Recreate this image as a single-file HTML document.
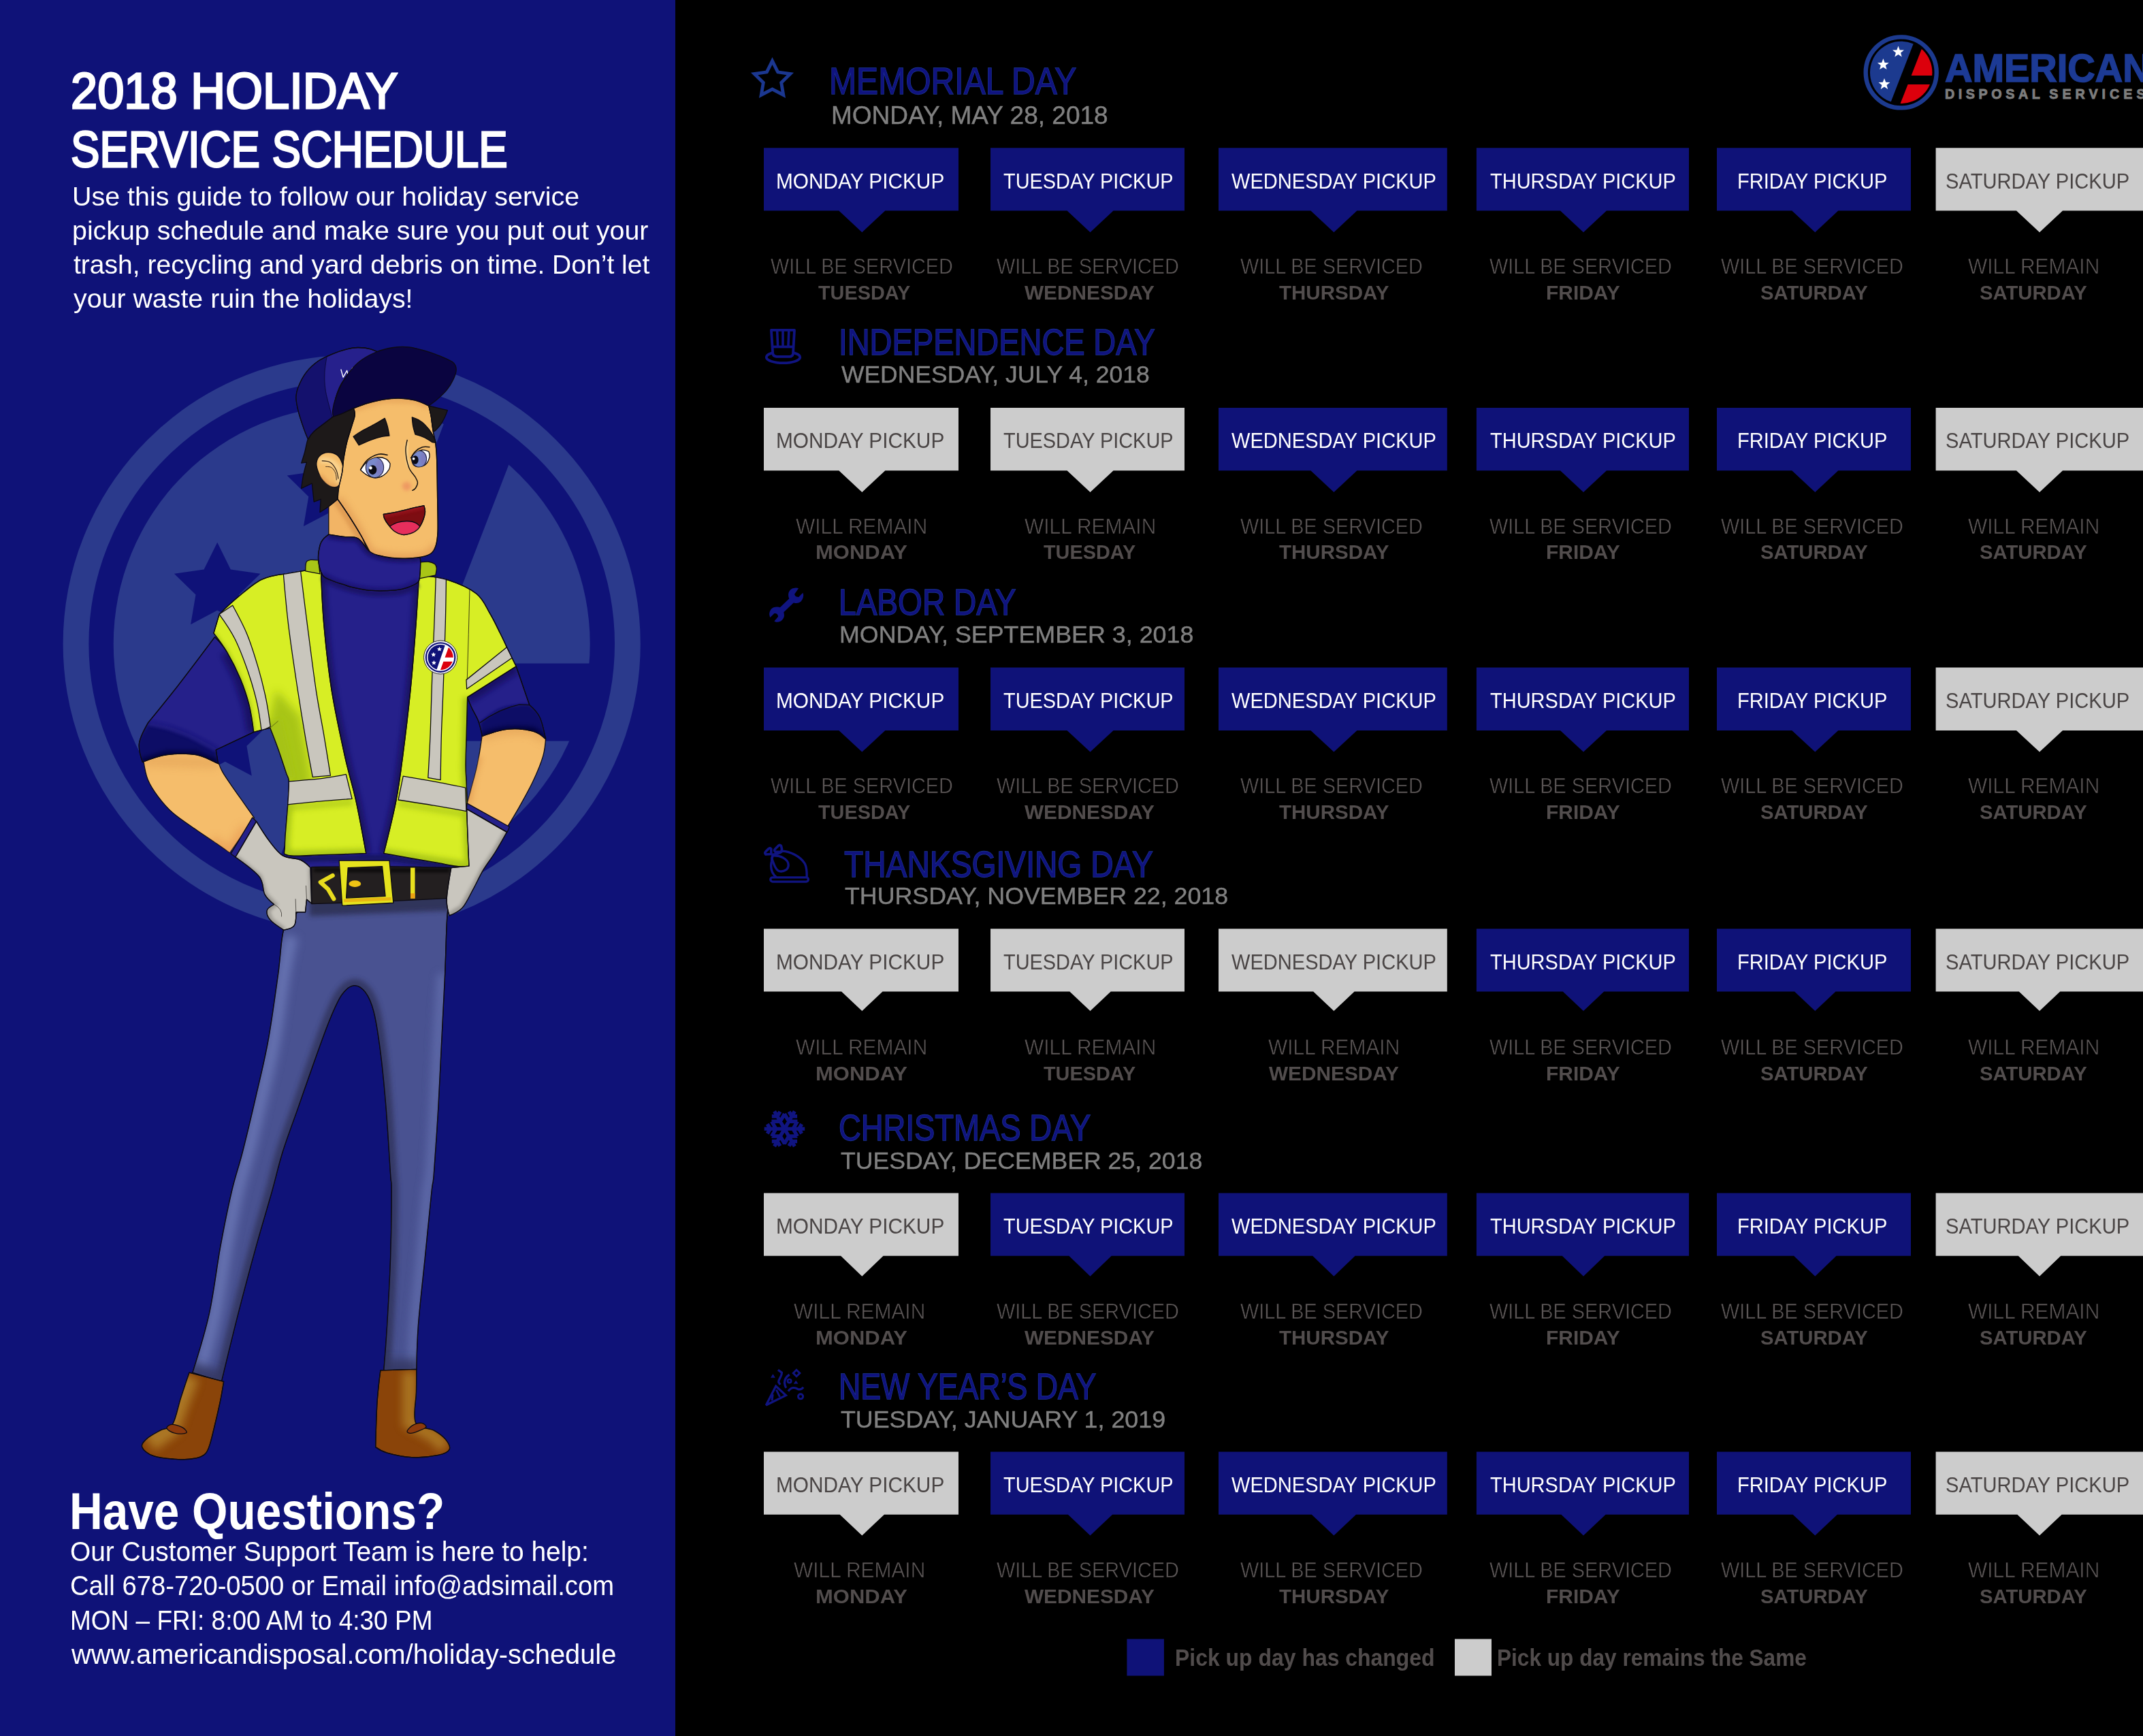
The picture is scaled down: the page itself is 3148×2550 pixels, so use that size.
<!DOCTYPE html>
<html lang="en"><head><meta charset="utf-8"><title>2018 Holiday Service Schedule</title>
<style>
html,body{margin:0;padding:0;background:#000;}
body{width:3148px;height:2550px;position:relative;overflow:hidden;font-family:"Liberation Sans",sans-serif;}
#left{position:absolute;left:0;top:0;width:992px;height:2550px;background:#0f1278;}
#art{position:absolute;left:0;top:0;width:3148px;height:2550px;}
.t{position:absolute;white-space:nowrap;line-height:1;transform-origin:0 0;font-family:"Liberation Sans",sans-serif;}
.thin{-webkit-text-stroke:0.55px #000;}
</style></head>
<body>
<div id="left"></div>
<svg id="art" width="3148" height="2550" viewBox="0 0 3148 2550">
<g id="bglogo">
<defs><clipPath id="bgdisc"><circle cx="516.7" cy="945.9" r="350"/></clipPath></defs>
<circle cx="516.7" cy="945.9" r="405.2" fill="none" stroke="#2b3a8c" stroke-width="37.8"/>
<g clip-path="url(#bgdisc)" fill="#2b3a8c">
<path d="M728.6 419.6 L330.8 1472.2 L100 1472.2 L100 419.6Z"/>
<path d="M794.7 560 L634.7 974.4 L900 974.4 L900 560Z"/>
<path d="M590.7 1088.5 L900 1088.5 L900 1320 L501 1320Z"/>
</g>
<path fill="#0f1278" d="M485.0,652.6 L504.6,692.3 L548.3,698.6 L516.7,729.5 L524.1,773.1 L485.0,752.5 L445.9,773.1 L453.3,729.5 L421.7,698.6 L465.4,692.3Z"/>
<path fill="#0f1278" d="M319.2,796.7 L338.8,836.4 L382.5,842.7 L350.9,873.6 L358.3,917.2 L319.2,896.6 L280.1,917.2 L287.5,873.6 L255.9,842.7 L299.6,836.4Z"/>
<path fill="#0f1278" d="M330.7,1018.9 L350.3,1058.6 L394.0,1064.9 L362.4,1095.8 L369.8,1139.4 L330.7,1118.8 L291.6,1139.4 L299.0,1095.8 L267.4,1064.9 L311.1,1058.6Z"/>
</g>
<g id="character"><defs>
<filter id="b6" filterUnits="userSpaceOnUse" x="-300" y="-400" width="3000" height="4600"><feGaussianBlur stdDeviation="6"/></filter>
<filter id="b12" filterUnits="userSpaceOnUse" x="-300" y="-400" width="3000" height="4600"><feGaussianBlur stdDeviation="12"/></filter>
<filter id="b20" filterUnits="userSpaceOnUse" x="-300" y="-400" width="3000" height="4600"><feGaussianBlur stdDeviation="20"/></filter>
<filter id="b35" filterUnits="userSpaceOnUse" x="-300" y="-400" width="3000" height="4600"><feGaussianBlur stdDeviation="35"/></filter>
</defs>
<g transform="translate(180,1300) scale(0.326645)">
<clipPath id="cpPants"><path d="M850.0 40.0C850.0 40.0 800.8 103.3 780.0 130.0C759.2 156.7 738.3 155.0 725.0 200.0C711.7 245.0 711.7 316.7 700.0 400.0C688.3 483.3 671.7 608.3 655.0 700.0C638.3 791.7 619.2 866.7 600.0 950.0C580.8 1033.3 558.2 1128.7 540.0 1200.0C521.8 1271.3 507.7 1306.3 491.0 1377.6C474.3 1448.9 456.8 1535.9 440.0 1627.6C423.2 1719.3 410.8 1833.4 390.0 1927.6C369.2 2021.8 315.0 2192.6 315.0 2192.6L445.0 2232.6C445.0 2232.6 494.2 2028.4 520.0 1927.6C545.8 1826.8 574.7 1719.3 600.0 1627.6C625.3 1535.9 652.0 1448.9 672.0 1377.6C692.0 1306.3 700.3 1262.9 720.0 1200.0C739.7 1137.1 766.7 1066.7 790.0 1000.0C813.3 933.3 836.7 865.0 860.0 800.0C883.3 735.0 909.2 660.8 930.0 610.0C950.8 559.2 966.7 521.3 985.0 495.0C1003.3 468.7 1022.2 454.2 1040.0 452.0C1057.8 449.8 1077.0 462.3 1092.0 482.0C1107.0 501.7 1118.7 525.3 1130.0 570.0C1141.3 614.7 1150.8 678.3 1160.0 750.0C1169.2 821.7 1177.5 908.3 1185.0 1000.0C1192.5 1091.7 1200.8 1237.1 1205.0 1300.0C1209.2 1362.9 1210.0 1314.7 1210.0 1377.6C1210.0 1440.5 1208.3 1577.6 1205.0 1677.6C1201.7 1777.6 1195.0 1893.4 1190.0 1977.6C1185.0 2061.8 1175.0 2182.6 1175.0 2182.6L1322.0 2179.6C1322.0 2179.6 1323.7 2061.3 1330.0 1977.6C1336.3 1893.9 1350.0 1777.6 1360.0 1677.6C1370.0 1577.6 1383.3 1440.5 1390.0 1377.6C1396.7 1314.7 1395.0 1362.9 1400.0 1300.0C1405.0 1237.1 1414.2 1100.0 1420.0 1000.0C1425.8 900.0 1430.0 800.0 1435.0 700.0C1440.0 600.0 1445.8 493.3 1450.0 400.0C1454.2 306.7 1455.3 203.3 1460.0 140.0C1464.7 76.7 1478.0 20.0 1478.0 20.0L850.0 40.0Z"/></clipPath>
<path d="M850.0 40.0C850.0 40.0 800.8 103.3 780.0 130.0C759.2 156.7 738.3 155.0 725.0 200.0C711.7 245.0 711.7 316.7 700.0 400.0C688.3 483.3 671.7 608.3 655.0 700.0C638.3 791.7 619.2 866.7 600.0 950.0C580.8 1033.3 558.2 1128.7 540.0 1200.0C521.8 1271.3 507.7 1306.3 491.0 1377.6C474.3 1448.9 456.8 1535.9 440.0 1627.6C423.2 1719.3 410.8 1833.4 390.0 1927.6C369.2 2021.8 315.0 2192.6 315.0 2192.6L445.0 2232.6C445.0 2232.6 494.2 2028.4 520.0 1927.6C545.8 1826.8 574.7 1719.3 600.0 1627.6C625.3 1535.9 652.0 1448.9 672.0 1377.6C692.0 1306.3 700.3 1262.9 720.0 1200.0C739.7 1137.1 766.7 1066.7 790.0 1000.0C813.3 933.3 836.7 865.0 860.0 800.0C883.3 735.0 909.2 660.8 930.0 610.0C950.8 559.2 966.7 521.3 985.0 495.0C1003.3 468.7 1022.2 454.2 1040.0 452.0C1057.8 449.8 1077.0 462.3 1092.0 482.0C1107.0 501.7 1118.7 525.3 1130.0 570.0C1141.3 614.7 1150.8 678.3 1160.0 750.0C1169.2 821.7 1177.5 908.3 1185.0 1000.0C1192.5 1091.7 1200.8 1237.1 1205.0 1300.0C1209.2 1362.9 1210.0 1314.7 1210.0 1377.6C1210.0 1440.5 1208.3 1577.6 1205.0 1677.6C1201.7 1777.6 1195.0 1893.4 1190.0 1977.6C1185.0 2061.8 1175.0 2182.6 1175.0 2182.6L1322.0 2179.6C1322.0 2179.6 1323.7 2061.3 1330.0 1977.6C1336.3 1893.9 1350.0 1777.6 1360.0 1677.6C1370.0 1577.6 1383.3 1440.5 1390.0 1377.6C1396.7 1314.7 1395.0 1362.9 1400.0 1300.0C1405.0 1237.1 1414.2 1100.0 1420.0 1000.0C1425.8 900.0 1430.0 800.0 1435.0 700.0C1440.0 600.0 1445.8 493.3 1450.0 400.0C1454.2 306.7 1455.3 203.3 1460.0 140.0C1464.7 76.7 1478.0 20.0 1478.0 20.0L850.0 40.0Z" fill="#495291" stroke="#0d0b12" stroke-width="1.3" vector-effect="non-scaling-stroke" stroke-linejoin="round"/>
<g clip-path="url(#cpPants)" fill="none">
<path d="M760.0 230.0C760.0 230.0 738.3 321.7 725.0 400.0C711.7 478.3 696.7 608.3 680.0 700.0C663.3 791.7 644.2 866.7 625.0 950.0C605.8 1033.3 583.3 1128.7 565.0 1200.0C546.7 1271.3 531.7 1306.3 515.0 1377.6C498.3 1448.9 481.7 1535.9 465.0 1627.6C448.3 1719.3 435.0 1833.4 415.0 1927.6C395.0 2021.8 345.0 2192.6 345.0 2192.6" stroke="#6a77b6" stroke-width="60" filter="url(#b20)" opacity="0.85"/>
<path d="M1440.0 400.0C1440.0 400.0 1425.8 600.0 1420.0 700.0C1414.2 800.0 1410.8 900.0 1405.0 1000.0C1399.2 1100.0 1390.5 1237.1 1385.0 1300.0C1379.5 1362.9 1378.7 1314.7 1372.0 1377.6C1365.3 1440.5 1354.5 1577.6 1345.0 1677.6C1335.5 1777.6 1321.7 1894.3 1315.0 1977.6C1308.3 2060.9 1305.0 2177.6 1305.0 2177.6" stroke="#6571b0" stroke-width="44" filter="url(#b20)" opacity="0.8"/>
<path d="M445.0 2232.6C445.0 2232.6 494.2 2028.4 520.0 1927.6C545.8 1826.8 574.7 1719.3 600.0 1627.6C625.3 1535.9 652.0 1448.9 672.0 1377.6C692.0 1306.3 700.3 1262.9 720.0 1200.0C739.7 1137.1 766.7 1066.7 790.0 1000.0C813.3 933.3 836.7 865.0 860.0 800.0C883.3 735.0 909.2 660.8 930.0 610.0C950.8 559.2 966.7 521.3 985.0 495.0C1003.3 468.7 1022.2 454.2 1040.0 452.0C1057.8 449.8 1077.0 462.3 1092.0 482.0C1107.0 501.7 1118.7 525.3 1130.0 570.0C1141.3 614.7 1150.8 678.3 1160.0 750.0C1169.2 821.7 1177.5 908.3 1185.0 1000.0C1192.5 1091.7 1200.8 1237.1 1205.0 1300.0C1209.2 1362.9 1210.0 1314.7 1210.0 1377.6C1210.0 1440.5 1208.3 1577.6 1205.0 1677.6C1201.7 1777.6 1195.0 1893.4 1190.0 1977.6C1185.0 2061.8 1175.0 2182.6 1175.0 2182.6" stroke="#33365f" stroke-width="60" filter="url(#b12)" opacity="0.85"/>
<path d="M840 95 L1480 70" stroke="#2f3157" stroke-width="90" filter="url(#b12)" opacity="0.9"/>
<path d="M300 2177.6 L460 2227.6 M1160 2167.6 L1330 2167.6" stroke="#343862" stroke-width="70" filter="url(#b20)" opacity="0.85"/>
</g>
<path d="M850.0 40.0C850.0 40.0 800.8 103.3 780.0 130.0C759.2 156.7 738.3 155.0 725.0 200.0C711.7 245.0 711.7 316.7 700.0 400.0C688.3 483.3 671.7 608.3 655.0 700.0C638.3 791.7 619.2 866.7 600.0 950.0C580.8 1033.3 558.2 1128.7 540.0 1200.0C521.8 1271.3 507.7 1306.3 491.0 1377.6C474.3 1448.9 456.8 1535.9 440.0 1627.6C423.2 1719.3 410.8 1833.4 390.0 1927.6C369.2 2021.8 315.0 2192.6 315.0 2192.6L445.0 2232.6C445.0 2232.6 494.2 2028.4 520.0 1927.6C545.8 1826.8 574.7 1719.3 600.0 1627.6C625.3 1535.9 652.0 1448.9 672.0 1377.6C692.0 1306.3 700.3 1262.9 720.0 1200.0C739.7 1137.1 766.7 1066.7 790.0 1000.0C813.3 933.3 836.7 865.0 860.0 800.0C883.3 735.0 909.2 660.8 930.0 610.0C950.8 559.2 966.7 521.3 985.0 495.0C1003.3 468.7 1022.2 454.2 1040.0 452.0C1057.8 449.8 1077.0 462.3 1092.0 482.0C1107.0 501.7 1118.7 525.3 1130.0 570.0C1141.3 614.7 1150.8 678.3 1160.0 750.0C1169.2 821.7 1177.5 908.3 1185.0 1000.0C1192.5 1091.7 1200.8 1237.1 1205.0 1300.0C1209.2 1362.9 1210.0 1314.7 1210.0 1377.6C1210.0 1440.5 1208.3 1577.6 1205.0 1677.6C1201.7 1777.6 1195.0 1893.4 1190.0 1977.6C1185.0 2061.8 1175.0 2182.6 1175.0 2182.6L1322.0 2179.6C1322.0 2179.6 1323.7 2061.3 1330.0 1977.6C1336.3 1893.9 1350.0 1777.6 1360.0 1677.6C1370.0 1577.6 1383.3 1440.5 1390.0 1377.6C1396.7 1314.7 1395.0 1362.9 1400.0 1300.0C1405.0 1237.1 1414.2 1100.0 1420.0 1000.0C1425.8 900.0 1430.0 800.0 1435.0 700.0C1440.0 600.0 1445.8 493.3 1450.0 400.0C1454.2 306.7 1455.3 203.3 1460.0 140.0C1464.7 76.7 1478.0 20.0 1478.0 20.0L850.0 40.0Z" fill="none" stroke="#0d0b12" stroke-width="1.3" vector-effect="non-scaling-stroke" stroke-linejoin="round"/>
</g>
<g transform="translate(180,1750) scale(0.326645)">
<clipPath id="cpBootL"><path d="M300.0 815.0L455.0 855.0C455.0 855.0 446.7 907.5 440.0 940.0C433.3 972.5 423.0 1016.7 415.0 1050.0C407.0 1083.3 399.2 1118.3 392.0 1140.0C384.8 1161.7 382.3 1170.0 372.0 1180.0C361.7 1190.0 350.3 1195.8 330.0 1200.0C309.7 1204.2 281.7 1206.7 250.0 1205.0C218.3 1203.3 167.0 1199.2 140.0 1190.0C113.0 1180.8 93.0 1163.0 88.0 1150.0C83.0 1137.0 96.3 1124.5 110.0 1112.0C123.7 1099.5 150.8 1085.7 170.0 1075.0C189.2 1064.3 209.7 1072.2 225.0 1048.0C240.3 1023.8 249.5 968.8 262.0 930.0C274.5 891.2 300.0 815.0 300.0 815.0Z"/></clipPath>
<path d="M300.0 815.0L455.0 855.0C455.0 855.0 446.7 907.5 440.0 940.0C433.3 972.5 423.0 1016.7 415.0 1050.0C407.0 1083.3 399.2 1118.3 392.0 1140.0C384.8 1161.7 382.3 1170.0 372.0 1180.0C361.7 1190.0 350.3 1195.8 330.0 1200.0C309.7 1204.2 281.7 1206.7 250.0 1205.0C218.3 1203.3 167.0 1199.2 140.0 1190.0C113.0 1180.8 93.0 1163.0 88.0 1150.0C83.0 1137.0 96.3 1124.5 110.0 1112.0C123.7 1099.5 150.8 1085.7 170.0 1075.0C189.2 1064.3 209.7 1072.2 225.0 1048.0C240.3 1023.8 249.5 968.8 262.0 930.0C274.5 891.2 300.0 815.0 300.0 815.0Z" fill="#8a4409" stroke="#0d0b12" stroke-width="1.3" vector-effect="non-scaling-stroke" stroke-linejoin="round"/>
<g clip-path="url(#cpBootL)" fill="none">
<path d="M300 830 L250 960 L215 1060 L120 1130" stroke="#ad7a26" stroke-width="90" filter="url(#b20)" opacity="0.95"/>
</g>
<path d="M300.0 815.0L455.0 855.0C455.0 855.0 446.7 907.5 440.0 940.0C433.3 972.5 423.0 1016.7 415.0 1050.0C407.0 1083.3 399.2 1118.3 392.0 1140.0C384.8 1161.7 382.3 1170.0 372.0 1180.0C361.7 1190.0 350.3 1195.8 330.0 1200.0C309.7 1204.2 281.7 1206.7 250.0 1205.0C218.3 1203.3 167.0 1199.2 140.0 1190.0C113.0 1180.8 93.0 1163.0 88.0 1150.0C83.0 1137.0 96.3 1124.5 110.0 1112.0C123.7 1099.5 150.8 1085.7 170.0 1075.0C189.2 1064.3 209.7 1072.2 225.0 1048.0C240.3 1023.8 249.5 968.8 262.0 930.0C274.5 891.2 300.0 815.0 300.0 815.0Z" fill="none" stroke="#0d0b12" stroke-width="1.3" vector-effect="non-scaling-stroke" stroke-linejoin="round"/>
<clipPath id="cpBootR"><path d="M1160.0 805.0L1322.0 800.0C1322.0 800.0 1321.7 860.0 1321.0 900.0C1320.3 940.0 1304.8 1010.8 1318.0 1040.0C1331.2 1069.2 1377.7 1062.5 1400.0 1075.0C1422.3 1087.5 1440.3 1100.8 1452.0 1115.0C1463.7 1129.2 1475.3 1148.2 1470.0 1160.0C1464.7 1171.8 1448.3 1180.0 1420.0 1186.0C1391.7 1192.0 1338.3 1197.7 1300.0 1196.0C1261.7 1194.3 1217.0 1183.7 1190.0 1176.0C1163.0 1168.3 1138.0 1150.0 1138.0 1150.0C1138.0 1150.0 1141.3 1007.5 1145.0 950.0C1148.7 892.5 1160.0 805.0 1160.0 805.0Z"/></clipPath>
<path d="M1160.0 805.0L1322.0 800.0C1322.0 800.0 1321.7 860.0 1321.0 900.0C1320.3 940.0 1304.8 1010.8 1318.0 1040.0C1331.2 1069.2 1377.7 1062.5 1400.0 1075.0C1422.3 1087.5 1440.3 1100.8 1452.0 1115.0C1463.7 1129.2 1475.3 1148.2 1470.0 1160.0C1464.7 1171.8 1448.3 1180.0 1420.0 1186.0C1391.7 1192.0 1338.3 1197.7 1300.0 1196.0C1261.7 1194.3 1217.0 1183.7 1190.0 1176.0C1163.0 1168.3 1138.0 1150.0 1138.0 1150.0C1138.0 1150.0 1141.3 1007.5 1145.0 950.0C1148.7 892.5 1160.0 805.0 1160.0 805.0Z" fill="#8a4409" stroke="#0d0b12" stroke-width="1.3" vector-effect="non-scaling-stroke" stroke-linejoin="round"/>
<g clip-path="url(#cpBootR)" fill="none">
<path d="M1290 810 L1290 1040 L1400 1100 L1450 1150" stroke="#ad7a26" stroke-width="60" filter="url(#b20)" opacity="0.9"/>
</g>
<path d="M1160.0 805.0L1322.0 800.0C1322.0 800.0 1321.7 860.0 1321.0 900.0C1320.3 940.0 1304.8 1010.8 1318.0 1040.0C1331.2 1069.2 1377.7 1062.5 1400.0 1075.0C1422.3 1087.5 1440.3 1100.8 1452.0 1115.0C1463.7 1129.2 1475.3 1148.2 1470.0 1160.0C1464.7 1171.8 1448.3 1180.0 1420.0 1186.0C1391.7 1192.0 1338.3 1197.7 1300.0 1196.0C1261.7 1194.3 1217.0 1183.7 1190.0 1176.0C1163.0 1168.3 1138.0 1150.0 1138.0 1150.0C1138.0 1150.0 1141.3 1007.5 1145.0 950.0C1148.7 892.5 1160.0 805.0 1160.0 805.0Z" fill="none" stroke="#0d0b12" stroke-width="1.3" vector-effect="non-scaling-stroke" stroke-linejoin="round"/>
<path d="M200.0 1060.0C202.2 1055.0 213.3 1047.7 225.0 1048.0C236.7 1048.3 259.5 1055.8 270.0 1062.0C280.5 1068.2 291.3 1080.3 288.0 1085.0C284.7 1089.7 262.7 1091.2 250.0 1090.0C237.3 1088.8 220.3 1083.0 212.0 1078.0C203.7 1073.0 197.8 1065.0 200.0 1060.0Z" fill="#8c3a0c" stroke="#0d0b12" stroke-width="1.3" vector-effect="non-scaling-stroke" stroke-linejoin="round"/>
<path d="M1280.0 1078.0C1281.7 1072.0 1294.2 1058.0 1305.0 1052.0C1315.8 1046.0 1335.0 1040.7 1345.0 1042.0C1355.0 1043.3 1367.5 1054.0 1365.0 1060.0C1362.5 1066.0 1341.7 1073.3 1330.0 1078.0C1318.3 1082.7 1303.3 1088.0 1295.0 1088.0C1286.7 1088.0 1278.3 1084.0 1280.0 1078.0Z" fill="#8c3a0c" stroke="#0d0b12" stroke-width="1.3" vector-effect="non-scaling-stroke" stroke-linejoin="round"/>
</g>
<g transform="translate(180,850) scale(0.326645)">
<clipPath id="cpLarm"><path d="M95.0 822.0C95.0 822.0 160.8 795.3 200.0 790.0C239.2 784.7 291.3 783.3 330.0 790.0C368.7 796.7 432.0 830.0 432.0 830.0C432.0 830.0 441.0 854.2 450.0 870.0C459.0 885.8 470.0 901.7 486.0 925.0C502.0 948.3 528.3 985.0 546.0 1010.0C563.7 1035.0 592.0 1075.0 592.0 1075.0L482.0 1232.0C482.0 1232.0 449.7 1208.8 425.0 1192.0C400.3 1175.2 366.8 1153.8 334.0 1131.0C301.2 1108.2 257.0 1080.2 228.0 1055.0C199.0 1029.8 179.0 1005.2 160.0 980.0C141.0 954.8 124.8 930.3 114.0 904.0C103.2 877.7 95.0 822.0 95.0 822.0Z"/></clipPath>
<path d="M95.0 822.0C95.0 822.0 160.8 795.3 200.0 790.0C239.2 784.7 291.3 783.3 330.0 790.0C368.7 796.7 432.0 830.0 432.0 830.0C432.0 830.0 441.0 854.2 450.0 870.0C459.0 885.8 470.0 901.7 486.0 925.0C502.0 948.3 528.3 985.0 546.0 1010.0C563.7 1035.0 592.0 1075.0 592.0 1075.0L482.0 1232.0C482.0 1232.0 449.7 1208.8 425.0 1192.0C400.3 1175.2 366.8 1153.8 334.0 1131.0C301.2 1108.2 257.0 1080.2 228.0 1055.0C199.0 1029.8 179.0 1005.2 160.0 980.0C141.0 954.8 124.8 930.3 114.0 904.0C103.2 877.7 95.0 822.0 95.0 822.0Z" fill="#f5bd6b" stroke="#0d0b12" stroke-width="1.3" vector-effect="non-scaling-stroke" stroke-linejoin="round"/>
<g clip-path="url(#cpLarm)" fill="none"><path d="M95 818 L430 828" stroke="#d48a45" stroke-width="44" filter="url(#b20)" opacity="0.35"/><path d="M400 1180 L482 1236 L560 1120" stroke="#e89a52" stroke-width="50" filter="url(#b20)" opacity="0.7"/></g>
<clipPath id="cpRarm"><path d="M1618.0 700.0C1618.0 700.0 1694.0 671.7 1732.0 668.0C1770.0 664.3 1817.5 670.2 1846.0 678.0C1874.5 685.8 1903.0 715.0 1903.0 715.0C1903.0 715.0 1900.5 765.3 1891.0 798.0C1881.5 830.7 1863.7 873.2 1846.0 911.0C1828.3 948.8 1804.0 991.2 1785.0 1025.0C1766.0 1058.8 1732.0 1114.0 1732.0 1114.0L1550.0 1012.0C1550.0 1012.0 1559.3 978.3 1567.0 949.0C1574.7 919.7 1587.5 877.5 1596.0 836.0C1604.5 794.5 1618.0 700.0 1618.0 700.0Z"/></clipPath>
<path d="M1618.0 700.0C1618.0 700.0 1694.0 671.7 1732.0 668.0C1770.0 664.3 1817.5 670.2 1846.0 678.0C1874.5 685.8 1903.0 715.0 1903.0 715.0C1903.0 715.0 1900.5 765.3 1891.0 798.0C1881.5 830.7 1863.7 873.2 1846.0 911.0C1828.3 948.8 1804.0 991.2 1785.0 1025.0C1766.0 1058.8 1732.0 1114.0 1732.0 1114.0L1550.0 1012.0C1550.0 1012.0 1559.3 978.3 1567.0 949.0C1574.7 919.7 1587.5 877.5 1596.0 836.0C1604.5 794.5 1618.0 700.0 1618.0 700.0Z" fill="#f5bd6b" stroke="#0d0b12" stroke-width="1.3" vector-effect="non-scaling-stroke" stroke-linejoin="round"/>
<g clip-path="url(#cpRarm)" fill="none"><path d="M1612 705 Q1732 662 1846 680 L1903 718" stroke="#d48a45" stroke-width="44" filter="url(#b20)" opacity="0.4"/><path d="M1600 800 L1572 900 L1550 1012" stroke="#e39f55" stroke-width="40" filter="url(#b12)" opacity="0.7"/></g>
<clipPath id="cpLsl"><path d="M415.0 262.0C415.0 262.0 300.0 415.7 250.0 480.0C200.0 544.3 115.0 648.0 115.0 648.0C115.0 648.0 79.2 710.5 75.0 740.0C70.8 769.5 90.0 825.0 90.0 825.0C90.0 825.0 160.0 797.5 200.0 792.0C240.0 786.5 291.7 785.3 330.0 792.0C368.3 798.7 430.0 832.0 430.0 832.0L420.0 770.0L590.0 690.0C590.0 690.0 580.0 610.0 570.0 570.0C560.0 530.0 546.7 490.0 530.0 450.0C513.3 410.0 489.2 361.3 470.0 330.0C450.8 298.7 415.0 262.0 415.0 262.0Z"/></clipPath>
<path d="M415.0 262.0C415.0 262.0 300.0 415.7 250.0 480.0C200.0 544.3 115.0 648.0 115.0 648.0C115.0 648.0 79.2 710.5 75.0 740.0C70.8 769.5 90.0 825.0 90.0 825.0C90.0 825.0 160.0 797.5 200.0 792.0C240.0 786.5 291.7 785.3 330.0 792.0C368.3 798.7 430.0 832.0 430.0 832.0L420.0 770.0L590.0 690.0C590.0 690.0 580.0 610.0 570.0 570.0C560.0 530.0 546.7 490.0 530.0 450.0C513.3 410.0 489.2 361.3 470.0 330.0C450.8 298.7 415.0 262.0 415.0 262.0Z" fill="#25208a" stroke="#0d0b12" stroke-width="1.3" vector-effect="non-scaling-stroke" stroke-linejoin="round"/>
<g clip-path="url(#cpLsl)">
<path d="M115.0 648.0C115.0 648.0 65.8 708.0 60.0 740.0C54.2 772.0 80.0 840.0 80.0 840.0C80.0 840.0 158.3 806.7 200.0 800.0C241.7 793.3 290.0 792.5 330.0 800.0C370.0 807.5 440.0 845.0 440.0 845.0L425.0 765.0C425.0 765.0 337.5 716.7 300.0 700.0C262.5 683.3 230.8 673.7 200.0 665.0C169.2 656.3 115.0 648.0 115.0 648.0Z" fill="#100c66" filter="url(#b12)"/>
<path d="M85 830 L200 795 L330 795 L432 835" stroke="#06043a" stroke-width="40" fill="none" filter="url(#b12)"/>
<path d="M120 650 L200 668 L300 705 L420 768" stroke="#25208a" stroke-width="20" fill="none" filter="url(#b6)" opacity="0.7"/>
<path d="M470 330 L530 450 L570 570 L590 690" stroke="#15115f" stroke-width="60" fill="none" filter="url(#b12)" opacity="0.8"/>
</g>
<path d="M415.0 262.0C415.0 262.0 300.0 415.7 250.0 480.0C200.0 544.3 115.0 648.0 115.0 648.0C115.0 648.0 79.2 710.5 75.0 740.0C70.8 769.5 90.0 825.0 90.0 825.0C90.0 825.0 160.0 797.5 200.0 792.0C240.0 786.5 291.7 785.3 330.0 792.0C368.3 798.7 430.0 832.0 430.0 832.0L420.0 770.0L590.0 690.0C590.0 690.0 580.0 610.0 570.0 570.0C560.0 530.0 546.7 490.0 530.0 450.0C513.3 410.0 489.2 361.3 470.0 330.0C450.8 298.7 415.0 262.0 415.0 262.0Z" fill="none" stroke="#0d0b12" stroke-width="1.3" vector-effect="non-scaling-stroke" stroke-linejoin="round"/>
<clipPath id="cpRsl"><path d="M1551.0 533.0L1770.0 394.0L1830.0 568.0C1830.0 568.0 1863.8 597.3 1876.0 623.0C1888.2 648.7 1903.0 722.0 1903.0 722.0C1903.0 722.0 1874.5 693.5 1846.0 686.0C1817.5 678.5 1770.0 673.3 1732.0 677.0C1694.0 680.7 1618.0 708.0 1618.0 708.0C1618.0 708.0 1608.0 661.3 1600.0 640.0C1592.0 618.7 1578.2 597.8 1570.0 580.0C1561.8 562.2 1551.0 533.0 1551.0 533.0Z"/></clipPath>
<path d="M1551.0 533.0L1770.0 394.0L1830.0 568.0C1830.0 568.0 1863.8 597.3 1876.0 623.0C1888.2 648.7 1903.0 722.0 1903.0 722.0C1903.0 722.0 1874.5 693.5 1846.0 686.0C1817.5 678.5 1770.0 673.3 1732.0 677.0C1694.0 680.7 1618.0 708.0 1618.0 708.0C1618.0 708.0 1608.0 661.3 1600.0 640.0C1592.0 618.7 1578.2 597.8 1570.0 580.0C1561.8 562.2 1551.0 533.0 1551.0 533.0Z" fill="#25208a" stroke="#0d0b12" stroke-width="1.3" vector-effect="non-scaling-stroke" stroke-linejoin="round"/>
<g clip-path="url(#cpRsl)">
<path d="M1607.0 648.0C1607.0 648.0 1664.3 600.5 1694.0 587.0C1723.7 573.5 1762.0 570.2 1785.0 567.0C1808.0 563.8 1832.0 568.0 1832.0 568.0C1832.0 568.0 1867.3 593.8 1880.0 620.0C1892.7 646.2 1908.0 725.0 1908.0 725.0C1908.0 725.0 1875.3 697.5 1846.0 690.0C1816.7 682.5 1771.0 676.3 1732.0 680.0C1693.0 683.7 1612.0 712.0 1612.0 712.0L1607.0 648.0Z" fill="#110d66" filter="url(#b6)"/>
<path d="M1618 710 Q1732 668 1846 686 L1903 724" stroke="#06043a" stroke-width="34" fill="none" filter="url(#b12)"/>
<path d="M1551 540 L1770 400" stroke="#15115f" stroke-width="50" fill="none" filter="url(#b12)" opacity="0.8"/>
</g>
<path d="M1551.0 533.0L1770.0 394.0L1830.0 568.0C1830.0 568.0 1863.8 597.3 1876.0 623.0C1888.2 648.7 1903.0 722.0 1903.0 722.0C1903.0 722.0 1874.5 693.5 1846.0 686.0C1817.5 678.5 1770.0 673.3 1732.0 677.0C1694.0 680.7 1618.0 708.0 1618.0 708.0C1618.0 708.0 1608.0 661.3 1600.0 640.0C1592.0 618.7 1578.2 597.8 1570.0 580.0C1561.8 562.2 1551.0 533.0 1551.0 533.0Z" fill="none" stroke="#0d0b12" stroke-width="1.3" vector-effect="non-scaling-stroke" stroke-linejoin="round"/>
<path d="M1607 648 Q1694 585 1785 566 L1832 568" fill="none" stroke="#0d0b12" stroke-width="1.3" vector-effect="non-scaling-stroke" stroke-linejoin="round"/>
<path d="M905.0 -60.0 L1330.0 -60.0 L1560.0 1290.0 L1480.0 1302.0 L850.0 1300.0 L728.0 1245.0Z" fill="#25208a" />
<path d="M735 1262 L1100 1255 L1180 1255 L1555 1305" stroke="#16125f" stroke-width="26" fill="none" filter="url(#b6)" opacity="0.9"/>
<clipPath id="cpLV"><path d="M878.0 -46.0L735.0 -22.0C735.0 -22.0 660.8 -13.3 625.0 4.0C589.2 21.3 551.7 56.0 520.0 82.0C488.3 108.0 435.0 160.0 435.0 160.0L410.0 245.0C410.0 245.0 450.0 295.8 470.0 330.0C490.0 364.2 513.3 410.0 530.0 450.0C546.7 490.0 560.0 530.0 570.0 570.0C580.0 610.0 590.0 690.0 590.0 690.0L664.0 671.0C664.0 671.0 686.0 726.3 698.0 760.0C710.0 793.7 727.7 847.7 736.0 873.0C744.3 898.3 746.8 887.8 748.0 912.0C749.2 936.2 746.0 970.0 743.0 1018.0C740.0 1066.0 729.7 1162.3 730.0 1200.0C730.3 1237.7 716.7 1237.0 745.0 1244.0C773.3 1251.0 841.7 1243.5 900.0 1242.0C958.3 1240.5 1095.0 1235.0 1095.0 1235.0C1095.0 1235.0 1065.8 1072.5 1050.0 1000.0C1034.2 927.5 1018.3 883.3 1000.0 800.0C981.7 716.7 955.8 600.0 940.0 500.0C924.2 400.0 913.0 291.0 905.0 200.0C897.0 109.0 892.0 -46.0 892.0 -46.0L878.0 -46.0Z"/></clipPath><clipPath id="cpRV"><path d="M1335.0 -16.0C1335.0 -16.0 1420.2 -8.0 1463.0 6.0C1505.8 20.0 1560.3 42.7 1592.0 68.0C1623.7 93.3 1635.3 128.5 1653.0 158.0C1670.7 187.5 1685.5 220.0 1698.0 245.0C1710.5 270.0 1728.0 308.0 1728.0 308.0L1770.0 394.0L1551.0 533.0C1551.0 533.0 1548.3 633.5 1547.0 684.0C1545.7 734.5 1543.2 798.2 1543.0 836.0C1542.8 873.8 1544.8 882.0 1546.0 911.0C1547.2 940.0 1548.7 972.0 1550.0 1010.0C1551.3 1048.0 1552.0 1097.0 1554.0 1139.0C1556.0 1181.0 1564.3 1235.8 1562.0 1262.0C1559.7 1288.2 1567.0 1293.8 1540.0 1296.0C1513.0 1298.2 1460.8 1285.2 1400.0 1275.0C1339.2 1264.8 1175.0 1235.0 1175.0 1235.0C1175.0 1235.0 1215.8 1072.5 1230.0 1000.0C1244.2 927.5 1249.2 883.3 1260.0 800.0C1270.8 716.7 1285.0 600.0 1295.0 500.0C1305.0 400.0 1313.7 286.0 1320.0 200.0C1326.3 114.0 1333.0 -16.0 1333.0 -16.0L1335.0 -16.0Z"/></clipPath>
<path d="M890.0 -80.0C890.0 -80.0 896.7 103.3 905.0 200.0C913.3 296.7 924.2 400.0 940.0 500.0C955.8 600.0 981.7 716.7 1000.0 800.0C1018.3 883.3 1034.2 927.5 1050.0 1000.0C1065.8 1072.5 1095.0 1235.0 1095.0 1235.0" stroke="#120e55" stroke-width="40" fill="none" filter="url(#b12)" opacity="0.75"/>
<path d="M1335.0 -70.0C1335.0 -70.0 1326.7 105.0 1320.0 200.0C1313.3 295.0 1305.0 400.0 1295.0 500.0C1285.0 600.0 1270.8 716.7 1260.0 800.0C1249.2 883.3 1244.2 927.5 1230.0 1000.0C1215.8 1072.5 1175.0 1235.0 1175.0 1235.0" stroke="#120e55" stroke-width="40" fill="none" filter="url(#b12)" opacity="0.75"/>
<path d="M878.0 -46.0L735.0 -22.0C735.0 -22.0 660.8 -13.3 625.0 4.0C589.2 21.3 551.7 56.0 520.0 82.0C488.3 108.0 435.0 160.0 435.0 160.0L410.0 245.0C410.0 245.0 450.0 295.8 470.0 330.0C490.0 364.2 513.3 410.0 530.0 450.0C546.7 490.0 560.0 530.0 570.0 570.0C580.0 610.0 590.0 690.0 590.0 690.0L664.0 671.0C664.0 671.0 686.0 726.3 698.0 760.0C710.0 793.7 727.7 847.7 736.0 873.0C744.3 898.3 746.8 887.8 748.0 912.0C749.2 936.2 746.0 970.0 743.0 1018.0C740.0 1066.0 729.7 1162.3 730.0 1200.0C730.3 1237.7 716.7 1237.0 745.0 1244.0C773.3 1251.0 841.7 1243.5 900.0 1242.0C958.3 1240.5 1095.0 1235.0 1095.0 1235.0C1095.0 1235.0 1065.8 1072.5 1050.0 1000.0C1034.2 927.5 1018.3 883.3 1000.0 800.0C981.7 716.7 955.8 600.0 940.0 500.0C924.2 400.0 913.0 291.0 905.0 200.0C897.0 109.0 892.0 -46.0 892.0 -46.0L878.0 -46.0Z" fill="#d7ee25" stroke="#0d0b12" stroke-width="1.3" vector-effect="non-scaling-stroke" stroke-linejoin="round"/>
<path d="M1335.0 -16.0C1335.0 -16.0 1420.2 -8.0 1463.0 6.0C1505.8 20.0 1560.3 42.7 1592.0 68.0C1623.7 93.3 1635.3 128.5 1653.0 158.0C1670.7 187.5 1685.5 220.0 1698.0 245.0C1710.5 270.0 1728.0 308.0 1728.0 308.0L1770.0 394.0L1551.0 533.0C1551.0 533.0 1548.3 633.5 1547.0 684.0C1545.7 734.5 1543.2 798.2 1543.0 836.0C1542.8 873.8 1544.8 882.0 1546.0 911.0C1547.2 940.0 1548.7 972.0 1550.0 1010.0C1551.3 1048.0 1552.0 1097.0 1554.0 1139.0C1556.0 1181.0 1564.3 1235.8 1562.0 1262.0C1559.7 1288.2 1567.0 1293.8 1540.0 1296.0C1513.0 1298.2 1460.8 1285.2 1400.0 1275.0C1339.2 1264.8 1175.0 1235.0 1175.0 1235.0C1175.0 1235.0 1215.8 1072.5 1230.0 1000.0C1244.2 927.5 1249.2 883.3 1260.0 800.0C1270.8 716.7 1285.0 600.0 1295.0 500.0C1305.0 400.0 1313.7 286.0 1320.0 200.0C1326.3 114.0 1333.0 -16.0 1333.0 -16.0L1335.0 -16.0Z" fill="#d7ee25" stroke="#0d0b12" stroke-width="1.3" vector-effect="non-scaling-stroke" stroke-linejoin="round"/>
<g clip-path="url(#cpLV)">
<path d="M690 500 L650 680 L700 780 L740 900 L750 1000 L830 960 L850 900 L800 620Z" fill="#a6c315" filter="url(#b20)" opacity="0.95"/>
<path d="M680 640 L740 900" stroke="#a6c315" stroke-width="70" fill="none" filter="url(#b12)"/>
<path d="M748 912 L743 1018 L730 1200 L745 1244 L1095 1235" stroke="#a6c315" stroke-width="44" fill="none" filter="url(#b12)" opacity="0.85"/>
<path d="M745 1030 L1035 1005" stroke="#a6c315" stroke-width="30" fill="none" filter="url(#b12)" opacity="0.6"/>
<path d="M410 245 L470 330 L530 450 L570 570 L590 690" stroke="#a6c315" stroke-width="24" fill="none" filter="url(#b6)" opacity="0.6"/>
<path d="M435.0 160.0L495.0 120.0C495.0 120.0 540.8 203.3 560.0 250.0C579.2 296.7 595.8 351.7 610.0 400.0C624.2 448.3 635.8 495.8 645.0 540.0C654.2 584.2 665.0 665.0 665.0 665.0L625.0 685.0C625.0 685.0 615.0 604.2 605.0 560.0C595.0 515.8 581.7 468.3 565.0 420.0C548.3 371.7 526.7 313.3 505.0 270.0C483.3 226.7 435.0 160.0 435.0 160.0Z" fill="#c9c6bd" stroke="#0d0b12" stroke-width="1.3" vector-effect="non-scaling-stroke" stroke-linejoin="round"/>
<path d="M664 671 L700 640" fill="none" stroke="#3a3a10" stroke-width="2"/>
<path d="M722.0 -40.0L800.0 -40.0C800.0 -40.0 818.3 110.0 830.0 200.0C841.7 290.0 857.5 416.7 870.0 500.0C882.5 583.3 894.2 635.8 905.0 700.0C915.8 764.2 935.0 885.0 935.0 885.0L855.0 892.0C855.0 892.0 832.5 773.7 820.0 700.0C807.5 626.3 792.5 533.3 780.0 450.0C767.5 366.7 754.7 281.7 745.0 200.0C735.3 118.3 722.0 -40.0 722.0 -40.0Z" fill="#c9c6bd" stroke="#0d0b12" stroke-width="1.3" vector-effect="non-scaling-stroke" stroke-linejoin="round"/>
<path d="M742.0 912.0C742.0 912.0 856.2 903.3 900.0 898.0C943.8 892.7 1005.0 880.0 1005.0 880.0L1032.0 990.0C1032.0 990.0 948.3 995.7 900.0 1000.0C851.7 1004.3 742.0 1016.0 742.0 1016.0L742.0 912.0Z" fill="#c9c6bd" stroke="#0d0b12" stroke-width="1.3" vector-effect="non-scaling-stroke" stroke-linejoin="round"/>
</g>
<g clip-path="url(#cpRV)">
<path d="M1551 533 L1545 850 L1550 1010 L1554 1139 L1560 1295 L1175 1235" stroke="#a6c315" stroke-width="44" fill="none" filter="url(#b12)" opacity="0.85"/>
<path d="M1240 1010 L1546 1060" stroke="#a6c315" stroke-width="30" fill="none" filter="url(#b12)" opacity="0.6"/>
<path d="M1410.0 -40.0L1456.0 -40.0C1456.0 -40.0 1454.3 110.0 1452.0 200.0C1449.7 290.0 1445.0 416.7 1442.0 500.0C1439.0 583.3 1436.0 632.5 1434.0 700.0C1432.0 767.5 1430.0 905.0 1430.0 905.0L1374.0 895.0C1374.0 895.0 1381.0 774.2 1384.0 700.0C1387.0 625.8 1389.0 533.3 1392.0 450.0C1395.0 366.7 1399.0 281.7 1402.0 200.0C1405.0 118.3 1410.0 -40.0 1410.0 -40.0Z" fill="#c9c6bd" stroke="#0d0b12" stroke-width="1.3" vector-effect="non-scaling-stroke" stroke-linejoin="round"/>
<path d="M1262.0 888.0C1262.0 888.0 1353.3 903.3 1400.0 912.0C1446.7 920.7 1542.0 940.0 1542.0 940.0L1546.0 1046.0C1546.0 1046.0 1451.0 1028.5 1400.0 1020.0C1349.0 1011.5 1240.0 995.0 1240.0 995.0L1262.0 888.0Z" fill="#c9c6bd" stroke="#0d0b12" stroke-width="1.3" vector-effect="non-scaling-stroke" stroke-linejoin="round"/>
<path d="M1546.0 455.0 L1729.0 308.0 L1752.0 356.0 L1548.0 496.0Z" fill="#c9c6bd" stroke="#0d0b12" stroke-width="1.3" vector-effect="non-scaling-stroke" stroke-linejoin="round"/>
<path d="M1562 20 L1556 250 L1550 450" fill="none" stroke="#3a3a10" stroke-width="3"/>
</g>
<path d="M878.0 -46.0L735.0 -22.0C735.0 -22.0 660.8 -13.3 625.0 4.0C589.2 21.3 551.7 56.0 520.0 82.0C488.3 108.0 435.0 160.0 435.0 160.0L410.0 245.0C410.0 245.0 450.0 295.8 470.0 330.0C490.0 364.2 513.3 410.0 530.0 450.0C546.7 490.0 560.0 530.0 570.0 570.0C580.0 610.0 590.0 690.0 590.0 690.0L664.0 671.0C664.0 671.0 686.0 726.3 698.0 760.0C710.0 793.7 727.7 847.7 736.0 873.0C744.3 898.3 746.8 887.8 748.0 912.0C749.2 936.2 746.0 970.0 743.0 1018.0C740.0 1066.0 729.7 1162.3 730.0 1200.0C730.3 1237.7 716.7 1237.0 745.0 1244.0C773.3 1251.0 841.7 1243.5 900.0 1242.0C958.3 1240.5 1095.0 1235.0 1095.0 1235.0C1095.0 1235.0 1065.8 1072.5 1050.0 1000.0C1034.2 927.5 1018.3 883.3 1000.0 800.0C981.7 716.7 955.8 600.0 940.0 500.0C924.2 400.0 913.0 291.0 905.0 200.0C897.0 109.0 892.0 -46.0 892.0 -46.0L878.0 -46.0Z" fill="none" stroke="#0d0b12" stroke-width="1.3" vector-effect="non-scaling-stroke" stroke-linejoin="round"/>
<path d="M1335.0 -16.0C1335.0 -16.0 1420.2 -8.0 1463.0 6.0C1505.8 20.0 1560.3 42.7 1592.0 68.0C1623.7 93.3 1635.3 128.5 1653.0 158.0C1670.7 187.5 1685.5 220.0 1698.0 245.0C1710.5 270.0 1728.0 308.0 1728.0 308.0L1770.0 394.0L1551.0 533.0C1551.0 533.0 1548.3 633.5 1547.0 684.0C1545.7 734.5 1543.2 798.2 1543.0 836.0C1542.8 873.8 1544.8 882.0 1546.0 911.0C1547.2 940.0 1548.7 972.0 1550.0 1010.0C1551.3 1048.0 1552.0 1097.0 1554.0 1139.0C1556.0 1181.0 1564.3 1235.8 1562.0 1262.0C1559.7 1288.2 1567.0 1293.8 1540.0 1296.0C1513.0 1298.2 1460.8 1285.2 1400.0 1275.0C1339.2 1264.8 1175.0 1235.0 1175.0 1235.0C1175.0 1235.0 1215.8 1072.5 1230.0 1000.0C1244.2 927.5 1249.2 883.3 1260.0 800.0C1270.8 716.7 1285.0 600.0 1295.0 500.0C1305.0 400.0 1313.7 286.0 1320.0 200.0C1326.3 114.0 1333.0 -16.0 1333.0 -16.0L1335.0 -16.0Z" fill="none" stroke="#0d0b12" stroke-width="1.3" vector-effect="non-scaling-stroke" stroke-linejoin="round"/>
<circle cx="1430" cy="353.6" r="75" fill="#fff" stroke="#222" stroke-width="3"/>
<circle cx="1430" cy="353.6" r="65" fill="none" stroke="#0f1278" stroke-width="7"/>
<clipPath id="cpBadge"><circle cx="1430" cy="353.6" r="57"/></clipPath>
<g clip-path="url(#cpBadge)">
<path d="M1457.0 280.6 L1408.0 422.7 L1350 422.7 L1350 280.6Z" fill="#0f1278"/>
<path d="M1475.3 283.6 L1449.7 354.7 L1510 354.7 L1510 283.6Z M1443.1 373.0 L1510 373.0 L1510 423.6 L1424.9 423.6Z" fill="#dc000c"/>
</g>
<path d="M1425.0 306.1 L1428.2 312.8 L1435.5 313.7 L1430.2 318.8 L1431.5 326.0 L1425.0 322.5 L1418.6 326.0 L1419.9 318.8 L1414.6 313.7 L1421.9 312.8Z" fill="#fff"/>
<path d="M1398.4 330.8 L1401.6 337.4 L1408.9 338.4 L1403.6 343.5 L1404.9 350.7 L1398.4 347.2 L1392.0 350.7 L1393.3 343.5 L1388.0 338.4 L1395.2 337.4Z" fill="#fff"/>
<path d="M1400.4 367.4 L1403.5 374.0 L1410.8 375.0 L1405.5 380.1 L1406.8 387.3 L1400.4 383.8 L1393.9 387.3 L1395.2 380.1 L1389.9 375.0 L1397.2 374.0Z" fill="#fff"/>
<path d="M850.0 1297.0C850.0 1297.0 1055.3 1293.5 1160.0 1294.0C1264.7 1294.5 1478.0 1300.0 1478.0 1300.0L1470.0 1437.0C1470.0 1437.0 1263.3 1447.8 1160.0 1452.0C1056.7 1456.2 850.0 1462.0 850.0 1462.0L850.0 1297.0Z" fill="#231f20" stroke="#0d0b12" stroke-width="1.3" vector-effect="non-scaling-stroke" stroke-linejoin="round"/>
<path d="M860 1310 L1470 1312" stroke="#000" stroke-width="16" filter="url(#b6)" opacity="0.7" fill="none"/>
<path d="M974 1268 L1200 1268 L1218 1458 L988 1470Z M1014 1300 L1168 1294 L1182 1428 L1006 1436Z" fill="#e6e31e" fill-rule="evenodd" stroke="#0d0b12" stroke-width="1.3" vector-effect="non-scaling-stroke" stroke-linejoin="round"/>
<path d="M995 1448 L1208 1440" stroke="#e8b712" stroke-width="14" fill="none"/>
<path d="M945 1335 L890 1365 L925 1397 L950 1440" stroke="#e8dc1e" stroke-width="19" fill="none" stroke-linecap="round" stroke-linejoin="round"/>
<ellipse cx="1045" cy="1372" rx="27" ry="15" fill="#f0c514"/>
<path d="M1305 1300 L1305 1438" stroke="#e8e01e" stroke-width="20" fill="none"/><path d="M1305 1415 L1305 1438" stroke="#eba313" stroke-width="20" fill="none"/>
<path d="M584.0 1074.0 L602.0 1092.0 L508.0 1252.0 L487.0 1237.0Z" fill="#25208a" stroke="#0d0b12" stroke-width="1.3" vector-effect="non-scaling-stroke" stroke-linejoin="round"/>
<clipPath id="cpLG"><path d="M602.0 1092.0C602.0 1092.0 640.3 1154.5 660.0 1180.0C679.7 1205.5 696.7 1230.8 720.0 1245.0C743.3 1259.2 779.2 1255.8 800.0 1265.0C820.8 1274.2 845.0 1300.0 845.0 1300.0L850.0 1460.0L828.0 1442.0L822.0 1500.0L780.0 1500.0C780.0 1500.0 781.2 1546.7 772.0 1560.0C762.8 1573.3 725.0 1580.0 725.0 1580.0C725.0 1580.0 677.5 1549.7 665.0 1535.0C652.5 1520.3 647.2 1503.7 650.0 1492.0C652.8 1480.3 682.0 1465.0 682.0 1465.0C682.0 1465.0 651.2 1440.8 640.0 1420.0C628.8 1399.2 637.0 1368.0 615.0 1340.0C593.0 1312.0 508.0 1252.0 508.0 1252.0L602.0 1092.0Z"/></clipPath>
<path d="M602.0 1092.0C602.0 1092.0 640.3 1154.5 660.0 1180.0C679.7 1205.5 696.7 1230.8 720.0 1245.0C743.3 1259.2 779.2 1255.8 800.0 1265.0C820.8 1274.2 845.0 1300.0 845.0 1300.0L850.0 1460.0L828.0 1442.0L822.0 1500.0L780.0 1500.0C780.0 1500.0 781.2 1546.7 772.0 1560.0C762.8 1573.3 725.0 1580.0 725.0 1580.0C725.0 1580.0 677.5 1549.7 665.0 1535.0C652.5 1520.3 647.2 1503.7 650.0 1492.0C652.8 1480.3 682.0 1465.0 682.0 1465.0C682.0 1465.0 651.2 1440.8 640.0 1420.0C628.8 1399.2 637.0 1368.0 615.0 1340.0C593.0 1312.0 508.0 1252.0 508.0 1252.0L602.0 1092.0Z" fill="#c9c6be" stroke="#0d0b12" stroke-width="1.3" vector-effect="non-scaling-stroke" stroke-linejoin="round"/>
<g clip-path="url(#cpLG)" fill="none"><path d="M508 1252 L615 1340 L640 1420 L682 1465 L650 1492 L665 1535 L725 1580" stroke="#8f8c86" stroke-width="26" filter="url(#b6)" opacity="0.7"/><path d="M845 1300 L850 1460" stroke="#8f8c86" stroke-width="20" filter="url(#b6)" opacity="0.6"/></g>
<path d="M602.0 1092.0C602.0 1092.0 640.3 1154.5 660.0 1180.0C679.7 1205.5 696.7 1230.8 720.0 1245.0C743.3 1259.2 779.2 1255.8 800.0 1265.0C820.8 1274.2 845.0 1300.0 845.0 1300.0L850.0 1460.0L828.0 1442.0L822.0 1500.0L780.0 1500.0C780.0 1500.0 781.2 1546.7 772.0 1560.0C762.8 1573.3 725.0 1580.0 725.0 1580.0C725.0 1580.0 677.5 1549.7 665.0 1535.0C652.5 1520.3 647.2 1503.7 650.0 1492.0C652.8 1480.3 682.0 1465.0 682.0 1465.0C682.0 1465.0 651.2 1440.8 640.0 1420.0C628.8 1399.2 637.0 1368.0 615.0 1340.0C593.0 1312.0 508.0 1252.0 508.0 1252.0L602.0 1092.0Z" fill="none" stroke="#0d0b12" stroke-width="1.3" vector-effect="non-scaling-stroke" stroke-linejoin="round"/>
<path d="M682 1465 Q720 1485 715 1520 M828 1442 L825 1380 M780 1500 L778 1440" fill="none" stroke="#55524d" stroke-width="3"/>
<path d="M1549.0 1010.0 L1740.0 1116.0 L1730.0 1140.0 L1547.0 1036.0Z" fill="#25208a" stroke="#0d0b12" stroke-width="1.3" vector-effect="non-scaling-stroke" stroke-linejoin="round"/>
<clipPath id="cpRG"><path d="M1548.0 1036.0L1728.0 1140.0C1728.0 1140.0 1693.7 1201.7 1676.0 1230.0C1658.3 1258.3 1638.8 1281.7 1622.0 1310.0C1605.2 1338.3 1590.7 1371.7 1575.0 1400.0C1559.3 1428.3 1545.5 1460.8 1528.0 1480.0C1510.5 1499.2 1470.0 1515.0 1470.0 1515.0C1470.0 1515.0 1456.7 1475.8 1458.0 1440.0C1459.3 1404.2 1478.0 1300.0 1478.0 1300.0L1558.0 1292.0C1558.0 1292.0 1553.7 1192.7 1552.0 1150.0C1550.3 1107.3 1548.0 1036.0 1548.0 1036.0Z"/></clipPath>
<path d="M1548.0 1036.0L1728.0 1140.0C1728.0 1140.0 1693.7 1201.7 1676.0 1230.0C1658.3 1258.3 1638.8 1281.7 1622.0 1310.0C1605.2 1338.3 1590.7 1371.7 1575.0 1400.0C1559.3 1428.3 1545.5 1460.8 1528.0 1480.0C1510.5 1499.2 1470.0 1515.0 1470.0 1515.0C1470.0 1515.0 1456.7 1475.8 1458.0 1440.0C1459.3 1404.2 1478.0 1300.0 1478.0 1300.0L1558.0 1292.0C1558.0 1292.0 1553.7 1192.7 1552.0 1150.0C1550.3 1107.3 1548.0 1036.0 1548.0 1036.0Z" fill="#c9c6be" stroke="#0d0b12" stroke-width="1.3" vector-effect="non-scaling-stroke" stroke-linejoin="round"/>
<g clip-path="url(#cpRG)" fill="none"><path d="M1728 1142 L1676 1230 L1622 1310 L1575 1400 L1528 1480 L1470 1515" stroke="#8f8c86" stroke-width="30" filter="url(#b6)" opacity="0.7"/></g>
<path d="M1548.0 1036.0L1728.0 1140.0C1728.0 1140.0 1693.7 1201.7 1676.0 1230.0C1658.3 1258.3 1638.8 1281.7 1622.0 1310.0C1605.2 1338.3 1590.7 1371.7 1575.0 1400.0C1559.3 1428.3 1545.5 1460.8 1528.0 1480.0C1510.5 1499.2 1470.0 1515.0 1470.0 1515.0C1470.0 1515.0 1456.7 1475.8 1458.0 1440.0C1459.3 1404.2 1478.0 1300.0 1478.0 1300.0L1558.0 1292.0C1558.0 1292.0 1553.7 1192.7 1552.0 1150.0C1550.3 1107.3 1548.0 1036.0 1548.0 1036.0Z" fill="none" stroke="#0d0b12" stroke-width="1.3" vector-effect="non-scaling-stroke" stroke-linejoin="round"/>
</g></g>
<g id="head"><g transform="translate(400,500) scale(0.233318)">
<path d="M209.0 1452.0C209.0 1452.0 208.8 1407.7 214.0 1396.0C219.2 1384.3 227.3 1384.0 240.0 1382.0C252.7 1380.0 290.0 1384.0 290.0 1384.0L300.0 1470.0L209.0 1452.0Z" fill="#a9c516" stroke="#0d0b12" stroke-width="1.3" vector-effect="non-scaling-stroke" stroke-linejoin="round"/>
<path d="M928.0 1398.0C928.0 1398.0 970.0 1392.2 986.0 1394.0C1002.0 1395.8 1016.0 1402.3 1024.0 1409.0C1032.0 1415.7 1033.3 1422.5 1034.0 1434.0C1034.7 1445.5 1028.0 1478.0 1028.0 1478.0L925.0 1500.0L928.0 1398.0Z" fill="#a9c516" stroke="#0d0b12" stroke-width="1.3" vector-effect="non-scaling-stroke" stroke-linejoin="round"/>
<clipPath id="cpNeck"><path d="M355.0 1045.0L355.0 1225.0C355.0 1225.0 419.2 1234.2 450.0 1238.0C480.8 1241.8 512.5 1232.7 540.0 1248.0C567.5 1263.3 615.0 1330.0 615.0 1330.0C615.0 1330.0 582.5 1268.3 560.0 1230.0C537.5 1191.7 504.7 1138.3 480.0 1100.0C455.3 1061.7 412.0 1000.0 412.0 1000.0L355.0 1045.0Z"/></clipPath>
<path d="M355.0 1045.0L355.0 1225.0C355.0 1225.0 419.2 1234.2 450.0 1238.0C480.8 1241.8 512.5 1232.7 540.0 1248.0C567.5 1263.3 615.0 1330.0 615.0 1330.0C615.0 1330.0 582.5 1268.3 560.0 1230.0C537.5 1191.7 504.7 1138.3 480.0 1100.0C455.3 1061.7 412.0 1000.0 412.0 1000.0L355.0 1045.0Z" fill="#f2b465" stroke="#0d0b12" stroke-width="1.3" vector-effect="non-scaling-stroke" stroke-linejoin="round"/>
<g clip-path="url(#cpNeck)"><path d="M412 1000 L480 1100 L560 1230 L615 1330" stroke="#dc9650" stroke-width="70" fill="none" filter="url(#b12)" opacity="0.8"/></g>
<path d="M317.0 1488.0C317.0 1488.0 349.5 1513.0 380.0 1526.0C410.5 1539.0 459.0 1555.3 500.0 1566.0C541.0 1576.7 580.0 1586.5 626.0 1590.0C672.0 1593.5 738.7 1590.3 776.0 1587.0C813.3 1583.7 826.5 1578.5 850.0 1570.0C873.5 1561.5 917.0 1536.0 917.0 1536.0" stroke="#120e5a" stroke-width="40" fill="none" filter="url(#b12)" opacity="0.7"/>
<clipPath id="cpCol"><path d="M355.0 1222.0C355.0 1222.0 419.2 1231.8 450.0 1236.0C480.8 1240.2 513.0 1231.8 540.0 1247.0C567.0 1262.2 585.3 1308.2 612.0 1327.0C638.7 1345.8 665.3 1352.5 700.0 1360.0C734.7 1367.5 781.7 1371.2 820.0 1372.0C858.3 1372.8 930.0 1365.0 930.0 1365.0C930.0 1365.0 933.2 1380.8 933.0 1400.0C932.8 1419.2 931.7 1459.7 929.0 1480.0C926.3 1500.3 930.2 1509.3 917.0 1522.0C903.8 1534.7 873.5 1547.7 850.0 1556.0C826.5 1564.3 813.3 1568.8 776.0 1572.0C738.7 1575.2 672.0 1578.2 626.0 1575.0C580.0 1571.8 530.0 1559.5 500.0 1553.0C470.0 1546.5 466.0 1542.5 446.0 1536.0C426.0 1529.5 401.5 1523.7 380.0 1514.0C358.5 1504.3 332.0 1500.3 317.0 1478.0C302.0 1455.7 292.8 1411.3 290.0 1380.0C287.2 1348.7 294.7 1311.7 300.0 1290.0C305.3 1268.3 312.8 1261.3 322.0 1250.0C331.2 1238.7 355.0 1222.0 355.0 1222.0Z"/></clipPath>
<path d="M355.0 1222.0C355.0 1222.0 419.2 1231.8 450.0 1236.0C480.8 1240.2 513.0 1231.8 540.0 1247.0C567.0 1262.2 585.3 1308.2 612.0 1327.0C638.7 1345.8 665.3 1352.5 700.0 1360.0C734.7 1367.5 781.7 1371.2 820.0 1372.0C858.3 1372.8 930.0 1365.0 930.0 1365.0C930.0 1365.0 933.2 1380.8 933.0 1400.0C932.8 1419.2 931.7 1459.7 929.0 1480.0C926.3 1500.3 930.2 1509.3 917.0 1522.0C903.8 1534.7 873.5 1547.7 850.0 1556.0C826.5 1564.3 813.3 1568.8 776.0 1572.0C738.7 1575.2 672.0 1578.2 626.0 1575.0C580.0 1571.8 530.0 1559.5 500.0 1553.0C470.0 1546.5 466.0 1542.5 446.0 1536.0C426.0 1529.5 401.5 1523.7 380.0 1514.0C358.5 1504.3 332.0 1500.3 317.0 1478.0C302.0 1455.7 292.8 1411.3 290.0 1380.0C287.2 1348.7 294.7 1311.7 300.0 1290.0C305.3 1268.3 312.8 1261.3 322.0 1250.0C331.2 1238.7 355.0 1222.0 355.0 1222.0Z" fill="#26208c" stroke="#0d0b12" stroke-width="1.3" vector-effect="non-scaling-stroke" stroke-linejoin="round"/>
<g clip-path="url(#cpCol)" fill="none">
<path d="M355.0 1222.0C355.0 1222.0 419.2 1231.8 450.0 1236.0C480.8 1240.2 513.0 1231.8 540.0 1247.0C567.0 1262.2 585.3 1308.2 612.0 1327.0C638.7 1345.8 665.3 1352.5 700.0 1360.0C734.7 1367.5 781.7 1371.2 820.0 1372.0C858.3 1372.8 930.0 1365.0 930.0 1365.0" stroke="#120e5a" stroke-width="50" filter="url(#b12)" opacity="0.8"/>
<path d="M317.0 1478.0C317.0 1478.0 349.5 1501.5 380.0 1514.0C410.5 1526.5 459.0 1542.8 500.0 1553.0C541.0 1563.2 580.0 1571.8 626.0 1575.0C672.0 1578.2 738.7 1575.2 776.0 1572.0C813.3 1568.8 826.5 1564.3 850.0 1556.0C873.5 1547.7 917.0 1522.0 917.0 1522.0" stroke="#14106a" stroke-width="40" filter="url(#b12)" opacity="0.7"/>
</g>
<path d="M355.0 1222.0C355.0 1222.0 419.2 1231.8 450.0 1236.0C480.8 1240.2 513.0 1231.8 540.0 1247.0C567.0 1262.2 585.3 1308.2 612.0 1327.0C638.7 1345.8 665.3 1352.5 700.0 1360.0C734.7 1367.5 781.7 1371.2 820.0 1372.0C858.3 1372.8 930.0 1365.0 930.0 1365.0C930.0 1365.0 933.2 1380.8 933.0 1400.0C932.8 1419.2 931.7 1459.7 929.0 1480.0C926.3 1500.3 930.2 1509.3 917.0 1522.0C903.8 1534.7 873.5 1547.7 850.0 1556.0C826.5 1564.3 813.3 1568.8 776.0 1572.0C738.7 1575.2 672.0 1578.2 626.0 1575.0C580.0 1571.8 530.0 1559.5 500.0 1553.0C470.0 1546.5 466.0 1542.5 446.0 1536.0C426.0 1529.5 401.5 1523.7 380.0 1514.0C358.5 1504.3 332.0 1500.3 317.0 1478.0C302.0 1455.7 292.8 1411.3 290.0 1380.0C287.2 1348.7 294.7 1311.7 300.0 1290.0C305.3 1268.3 312.8 1261.3 322.0 1250.0C331.2 1238.7 355.0 1222.0 355.0 1222.0Z" fill="none" stroke="#0d0b12" stroke-width="1.3" vector-effect="non-scaling-stroke" stroke-linejoin="round"/>
<path d="M385.0 478.0C385.0 478.0 350.8 503.8 330.0 520.0C309.2 536.2 277.5 558.3 260.0 575.0C242.5 591.7 234.2 599.2 225.0 620.0C215.8 640.8 212.0 674.7 205.0 700.0C198.0 725.3 183.0 772.0 183.0 772.0L216.0 768.0C216.0 768.0 200.5 822.7 195.0 850.0C189.5 877.3 183.0 932.0 183.0 932.0L250.0 900.0L262.0 1016.0L305.0 1000.0L300.0 1082.0C300.0 1082.0 336.3 1059.7 355.0 1046.0C373.7 1032.3 412.0 1000.0 412.0 1000.0C412.0 1000.0 424.5 928.3 430.0 900.0C435.5 871.7 441.3 856.7 445.0 830.0C448.7 803.3 447.8 771.7 452.0 740.0C456.2 708.3 462.0 673.3 470.0 640.0C478.0 606.7 491.7 568.3 500.0 540.0C508.3 511.7 518.0 488.7 520.0 470.0C522.0 451.3 512.0 428.0 512.0 428.0C512.0 428.0 461.2 451.7 440.0 460.0C418.8 468.3 385.0 478.0 385.0 478.0Z" fill="#1d1919" stroke="#0d0b12" stroke-width="1.3" vector-effect="non-scaling-stroke" stroke-linejoin="round"/>
<clipPath id="cpEar"><path d="M440.0 775.0C433.8 755.3 423.0 733.7 408.0 722.0C393.0 710.3 368.0 704.5 350.0 705.0C332.0 705.5 312.0 713.8 300.0 725.0C288.0 736.2 279.7 754.5 278.0 772.0C276.3 789.5 283.0 811.7 290.0 830.0C297.0 848.3 308.0 867.7 320.0 882.0C332.0 896.3 347.8 909.3 362.0 916.0C376.2 922.7 393.7 925.5 405.0 922.0C416.3 918.5 423.3 908.7 430.0 895.0C436.7 881.3 443.3 860.0 445.0 840.0C446.7 820.0 446.2 794.7 440.0 775.0Z"/></clipPath>
<path d="M440.0 775.0C433.8 755.3 423.0 733.7 408.0 722.0C393.0 710.3 368.0 704.5 350.0 705.0C332.0 705.5 312.0 713.8 300.0 725.0C288.0 736.2 279.7 754.5 278.0 772.0C276.3 789.5 283.0 811.7 290.0 830.0C297.0 848.3 308.0 867.7 320.0 882.0C332.0 896.3 347.8 909.3 362.0 916.0C376.2 922.7 393.7 925.5 405.0 922.0C416.3 918.5 423.3 908.7 430.0 895.0C436.7 881.3 443.3 860.0 445.0 840.0C446.7 820.0 446.2 794.7 440.0 775.0Z" fill="#f5bd6b" stroke="#0d0b12" stroke-width="1.3" vector-effect="non-scaling-stroke" stroke-linejoin="round"/>
<g clip-path="url(#cpEar)"><path d="M300 760 Q360 740 410 800 L425 900" stroke="#fbd692" stroke-width="40" fill="none" filter="url(#b12)" opacity="0.9"/><path d="M300 850 L360 915 L410 920" stroke="#e09a52" stroke-width="30" fill="none" filter="url(#b12)" opacity="0.7"/></g>
<path d="M312.0 758.0C312.0 758.0 350.0 758.5 365.0 768.0C380.0 777.5 393.5 797.7 402.0 815.0C410.5 832.3 416.0 872.0 416.0 872.0" fill="none" stroke="#2a1a12" stroke-width="5"/>
<path d="M335.0 795.0C335.0 795.0 361.5 793.3 372.0 800.0C382.5 806.7 392.7 821.7 398.0 835.0C403.3 848.3 404.0 880.0 404.0 880.0" fill="none" stroke="#2a1a12" stroke-width="4"/>
<clipPath id="cpFace"><path d="M512.0 428.0C512.0 428.0 568.7 405.3 600.0 396.0C631.3 386.7 666.7 377.3 700.0 372.0C733.3 366.7 766.7 363.2 800.0 364.0C833.3 364.8 869.2 369.0 900.0 377.0C930.8 385.0 985.0 412.0 985.0 412.0C985.0 412.0 995.5 453.7 1000.0 480.0C1004.5 506.3 1007.3 541.7 1012.0 570.0C1016.7 598.3 1024.0 618.3 1028.0 650.0C1032.0 681.7 1034.0 701.7 1036.0 760.0C1038.0 818.3 1039.0 926.7 1040.0 1000.0C1041.0 1073.3 1043.7 1151.7 1042.0 1200.0C1040.3 1248.3 1037.0 1266.7 1030.0 1290.0C1023.0 1313.3 1016.7 1327.5 1000.0 1340.0C983.3 1352.5 960.0 1359.7 930.0 1365.0C900.0 1370.3 858.3 1372.8 820.0 1372.0C781.7 1371.2 734.7 1367.5 700.0 1360.0C665.3 1352.5 635.3 1348.7 612.0 1327.0C588.7 1305.3 582.0 1267.8 560.0 1230.0C538.0 1192.2 504.7 1138.3 480.0 1100.0C455.3 1061.7 412.0 1000.0 412.0 1000.0C412.0 1000.0 413.3 958.3 418.0 930.0C422.7 901.7 434.7 861.7 440.0 830.0C445.3 798.3 445.0 771.7 450.0 740.0C455.0 708.3 461.7 673.3 470.0 640.0C478.3 606.7 491.7 568.3 500.0 540.0C508.3 511.7 518.0 488.7 520.0 470.0C522.0 451.3 512.0 428.0 512.0 428.0Z"/></clipPath>
<path d="M512.0 428.0C512.0 428.0 568.7 405.3 600.0 396.0C631.3 386.7 666.7 377.3 700.0 372.0C733.3 366.7 766.7 363.2 800.0 364.0C833.3 364.8 869.2 369.0 900.0 377.0C930.8 385.0 985.0 412.0 985.0 412.0C985.0 412.0 995.5 453.7 1000.0 480.0C1004.5 506.3 1007.3 541.7 1012.0 570.0C1016.7 598.3 1024.0 618.3 1028.0 650.0C1032.0 681.7 1034.0 701.7 1036.0 760.0C1038.0 818.3 1039.0 926.7 1040.0 1000.0C1041.0 1073.3 1043.7 1151.7 1042.0 1200.0C1040.3 1248.3 1037.0 1266.7 1030.0 1290.0C1023.0 1313.3 1016.7 1327.5 1000.0 1340.0C983.3 1352.5 960.0 1359.7 930.0 1365.0C900.0 1370.3 858.3 1372.8 820.0 1372.0C781.7 1371.2 734.7 1367.5 700.0 1360.0C665.3 1352.5 635.3 1348.7 612.0 1327.0C588.7 1305.3 582.0 1267.8 560.0 1230.0C538.0 1192.2 504.7 1138.3 480.0 1100.0C455.3 1061.7 412.0 1000.0 412.0 1000.0C412.0 1000.0 413.3 958.3 418.0 930.0C422.7 901.7 434.7 861.7 440.0 830.0C445.3 798.3 445.0 771.7 450.0 740.0C455.0 708.3 461.7 673.3 470.0 640.0C478.3 606.7 491.7 568.3 500.0 540.0C508.3 511.7 518.0 488.7 520.0 470.0C522.0 451.3 512.0 428.0 512.0 428.0Z" fill="#f5bd6b" stroke="#0d0b12" stroke-width="1.3" vector-effect="non-scaling-stroke" stroke-linejoin="round"/>
<g clip-path="url(#cpFace)" fill="none">
<path d="M412.0 1000.0C412.0 1000.0 455.3 1061.7 480.0 1100.0C504.7 1138.3 538.0 1192.2 560.0 1230.0C582.0 1267.8 588.7 1305.3 612.0 1327.0C635.3 1348.7 665.3 1352.5 700.0 1360.0C734.7 1367.5 781.7 1371.2 820.0 1372.0C858.3 1372.8 900.0 1370.3 930.0 1365.0C960.0 1359.7 983.3 1352.5 1000.0 1340.0C1016.7 1327.5 1030.0 1290.0 1030.0 1290.0" stroke="#e39e56" stroke-width="60" filter="url(#b20)" opacity="0.8"/>
<path d="M512 428 L700 372 L900 377 L985 412" stroke="#e8a75c" stroke-width="50" filter="url(#b12)" opacity="0.7"/>
<circle cx="846" cy="918" r="28" fill="#ee9a62" filter="url(#b12)"/>
<path d="M850 640 Q835 720 862 800" stroke="#fbdc9a" stroke-width="14" filter="url(#b6)"/>
</g>
<path d="M512.0 428.0C512.0 428.0 568.7 405.3 600.0 396.0C631.3 386.7 666.7 377.3 700.0 372.0C733.3 366.7 766.7 363.2 800.0 364.0C833.3 364.8 869.2 369.0 900.0 377.0C930.8 385.0 985.0 412.0 985.0 412.0C985.0 412.0 995.5 453.7 1000.0 480.0C1004.5 506.3 1007.3 541.7 1012.0 570.0C1016.7 598.3 1024.0 618.3 1028.0 650.0C1032.0 681.7 1034.0 701.7 1036.0 760.0C1038.0 818.3 1039.0 926.7 1040.0 1000.0C1041.0 1073.3 1043.7 1151.7 1042.0 1200.0C1040.3 1248.3 1037.0 1266.7 1030.0 1290.0C1023.0 1313.3 1016.7 1327.5 1000.0 1340.0C983.3 1352.5 960.0 1359.7 930.0 1365.0C900.0 1370.3 858.3 1372.8 820.0 1372.0C781.7 1371.2 734.7 1367.5 700.0 1360.0C665.3 1352.5 635.3 1348.7 612.0 1327.0C588.7 1305.3 582.0 1267.8 560.0 1230.0C538.0 1192.2 504.7 1138.3 480.0 1100.0C455.3 1061.7 412.0 1000.0 412.0 1000.0C412.0 1000.0 413.3 958.3 418.0 930.0C422.7 901.7 434.7 861.7 440.0 830.0C445.3 798.3 445.0 771.7 450.0 740.0C455.0 708.3 461.7 673.3 470.0 640.0C478.3 606.7 491.7 568.3 500.0 540.0C508.3 511.7 518.0 488.7 520.0 470.0C522.0 451.3 512.0 428.0 512.0 428.0Z" fill="none" stroke="#0d0b12" stroke-width="1.3" vector-effect="non-scaling-stroke" stroke-linejoin="round"/>
<path d="M412.0 1000.0C412.0 1000.0 455.3 1061.7 480.0 1100.0C504.7 1138.3 538.0 1192.2 560.0 1230.0C582.0 1267.8 612.0 1327.0 612.0 1327.0" fill="none" stroke="#0d0b12" stroke-width="1.3" vector-effect="non-scaling-stroke" stroke-linejoin="round"/>
<path d="M985.0 412.0C985.0 412.0 1020.3 420.3 1040.0 425.0C1059.7 429.7 1103.0 440.0 1103.0 440.0C1103.0 440.0 1092.2 470.0 1085.0 485.0C1077.8 500.0 1069.2 516.7 1060.0 530.0C1050.8 543.3 1037.5 557.5 1030.0 565.0C1022.5 572.5 1015.0 575.0 1015.0 575.0C1015.0 575.0 1007.5 535.8 1005.0 520.0C1002.5 504.2 1003.3 498.0 1000.0 480.0C996.7 462.0 985.0 412.0 985.0 412.0Z" fill="#1d1919" stroke="#0d0b12" stroke-width="1.3" vector-effect="non-scaling-stroke" stroke-linejoin="round"/>
<path d="M510.0 605.0C510.0 605.0 538.3 584.5 560.0 572.0C581.7 559.5 615.3 543.7 640.0 530.0C664.7 516.3 708.0 490.0 708.0 490.0C708.0 490.0 720.2 521.7 725.0 540.0C729.8 558.3 737.0 600.0 737.0 600.0C737.0 600.0 709.5 601.5 690.0 606.0C670.5 610.5 644.2 618.0 620.0 627.0C595.8 636.0 545.0 660.0 545.0 660.0L510.0 605.0Z" fill="#1d1919" stroke="#0d0b12" stroke-width="1.3" vector-effect="non-scaling-stroke" stroke-linejoin="round"/>
<path d="M880.0 484.0C880.0 484.0 906.3 492.0 920.0 500.0C933.7 508.0 948.3 518.3 962.0 532.0C975.7 545.7 990.7 563.7 1002.0 582.0C1013.3 600.3 1030.0 642.0 1030.0 642.0C1030.0 642.0 1016.7 645.0 1005.0 640.0C993.3 635.0 977.5 620.0 960.0 612.0C942.5 604.0 900.0 592.0 900.0 592.0C900.0 592.0 889.3 558.0 886.0 540.0C882.7 522.0 880.0 484.0 880.0 484.0Z" fill="#1d1919" stroke="#0d0b12" stroke-width="1.3" vector-effect="non-scaling-stroke" stroke-linejoin="round"/>
<path d="M555.0 815.0C555.0 815.0 582.5 775.0 600.0 762.0C617.5 749.0 640.8 739.7 660.0 737.0C679.2 734.3 701.3 739.5 715.0 746.0C728.7 752.5 742.0 776.0 742.0 776.0C742.0 776.0 742.0 799.7 735.0 812.0C728.0 824.3 714.2 841.0 700.0 850.0C685.8 859.0 666.7 866.0 650.0 866.0C633.3 866.0 615.8 858.5 600.0 850.0C584.2 841.5 555.0 815.0 555.0 815.0Z" fill="#fff" stroke="#0d0b12" stroke-width="1.3" vector-effect="non-scaling-stroke" stroke-linejoin="round"/>
<clipPath id="cpEyeL"><path d="M555.0 815.0C555.0 815.0 582.5 775.0 600.0 762.0C617.5 749.0 640.8 739.7 660.0 737.0C679.2 734.3 701.3 739.5 715.0 746.0C728.7 752.5 742.0 776.0 742.0 776.0C742.0 776.0 742.0 799.7 735.0 812.0C728.0 824.3 714.2 841.0 700.0 850.0C685.8 859.0 666.7 866.0 650.0 866.0C633.3 866.0 615.8 858.5 600.0 850.0C584.2 841.5 555.0 815.0 555.0 815.0Z"/></clipPath>
<g clip-path="url(#cpEyeL)"><ellipse cx="645" cy="800" rx="56" ry="64" fill="#7989cc" stroke="#1a1a3a" stroke-width="5"/><ellipse cx="672" cy="800" rx="24" ry="50" fill="#7f72b8" opacity="0.55" filter="url(#b6)"/><ellipse cx="632" cy="815" rx="25" ry="30" fill="#0a0a14"/><circle cx="619" cy="803" r="10" fill="#fff"/></g>
<path d="M555.0 815.0C555.0 815.0 581.2 768.3 600.0 752.0C618.8 735.7 646.8 722.0 668.0 717.0C689.2 712.0 727.0 722.0 727.0 722.0" fill="none" stroke="#15100e" stroke-width="7"/>
<path d="M875.0 740.0C875.0 740.0 893.3 714.3 905.0 706.0C916.7 697.7 931.7 691.0 945.0 690.0C958.3 689.0 985.0 700.0 985.0 700.0C985.0 700.0 992.5 719.3 990.0 732.0C987.5 744.7 980.0 765.3 970.0 776.0C960.0 786.7 943.3 794.5 930.0 796.0C916.7 797.5 899.2 794.3 890.0 785.0C880.8 775.7 875.0 740.0 875.0 740.0Z" fill="#fff" stroke="#0d0b12" stroke-width="1.3" vector-effect="non-scaling-stroke" stroke-linejoin="round"/>
<clipPath id="cpEyeR"><path d="M875.0 740.0C875.0 740.0 893.3 714.3 905.0 706.0C916.7 697.7 931.7 691.0 945.0 690.0C958.3 689.0 985.0 700.0 985.0 700.0C985.0 700.0 992.5 719.3 990.0 732.0C987.5 744.7 980.0 765.3 970.0 776.0C960.0 786.7 943.3 794.5 930.0 796.0C916.7 797.5 899.2 794.3 890.0 785.0C880.8 775.7 875.0 740.0 875.0 740.0Z"/></clipPath>
<g clip-path="url(#cpEyeR)"><ellipse cx="925" cy="746" rx="46" ry="52" fill="#7989cc" stroke="#1a1a3a" stroke-width="5"/><ellipse cx="950" cy="745" rx="18" ry="40" fill="#7f72b8" opacity="0.55" filter="url(#b6)"/><ellipse cx="900" cy="752" rx="20" ry="27" fill="#0a0a14"/><circle cx="890" cy="745" r="8" fill="#fff"/></g>
<path d="M872.0 742.0C872.0 742.0 887.8 711.7 900.0 700.0C912.2 688.3 929.7 676.7 945.0 672.0C960.3 667.3 992.0 672.0 992.0 672.0" fill="none" stroke="#15100e" stroke-width="7"/>
<path d="M850.0 625.0C850.0 625.0 838.3 670.8 840.0 700.0C841.7 729.2 850.0 773.3 860.0 800.0C870.0 826.7 890.8 844.2 900.0 860.0C909.2 875.8 914.7 883.3 915.0 895.0C915.3 906.7 907.8 921.5 902.0 930.0C896.2 938.5 880.0 946.0 880.0 946.0" fill="none" stroke="#15100e" stroke-width="6"/>
<clipPath id="cpMouth"><path d="M700.0 1095.0C700.0 1095.0 766.7 1083.2 800.0 1076.0C833.3 1068.8 874.2 1058.0 900.0 1052.0C925.8 1046.0 955.0 1040.0 955.0 1040.0C955.0 1040.0 963.5 1065.3 962.0 1082.0C960.5 1098.7 953.8 1122.0 946.0 1140.0C938.2 1158.0 927.7 1177.3 915.0 1190.0C902.3 1202.7 885.8 1210.5 870.0 1216.0C854.2 1221.5 836.7 1225.3 820.0 1223.0C803.3 1220.7 785.0 1212.5 770.0 1202.0C755.0 1191.5 740.7 1173.3 730.0 1160.0C719.3 1146.7 711.0 1132.8 706.0 1122.0C701.0 1111.2 700.0 1095.0 700.0 1095.0Z"/></clipPath>
<path d="M700.0 1095.0C700.0 1095.0 766.7 1083.2 800.0 1076.0C833.3 1068.8 874.2 1058.0 900.0 1052.0C925.8 1046.0 955.0 1040.0 955.0 1040.0C955.0 1040.0 963.5 1065.3 962.0 1082.0C960.5 1098.7 953.8 1122.0 946.0 1140.0C938.2 1158.0 927.7 1177.3 915.0 1190.0C902.3 1202.7 885.8 1210.5 870.0 1216.0C854.2 1221.5 836.7 1225.3 820.0 1223.0C803.3 1220.7 785.0 1212.5 770.0 1202.0C755.0 1191.5 740.7 1173.3 730.0 1160.0C719.3 1146.7 711.0 1132.8 706.0 1122.0C701.0 1111.2 700.0 1095.0 700.0 1095.0Z" fill="#7d0d12" stroke="#0d0b12" stroke-width="1.3" vector-effect="non-scaling-stroke" stroke-linejoin="round"/>
<g clip-path="url(#cpMouth)"><path d="M700 1095 L955 1040" stroke="#a01820" stroke-width="40" fill="none" filter="url(#b12)" opacity="0.8"/>
<path d="M740.0 1170.0C740.0 1170.0 771.7 1151.3 790.0 1146.0C808.3 1140.7 830.8 1137.3 850.0 1138.0C869.2 1138.7 890.0 1142.2 905.0 1150.0C920.0 1157.8 940.0 1185.0 940.0 1185.0C940.0 1185.0 923.3 1230.8 900.0 1240.0C876.7 1249.2 826.7 1251.7 800.0 1240.0C773.3 1228.3 740.0 1170.0 740.0 1170.0Z" fill="#e62e5c" stroke="#0d0b12" stroke-width="1.3" vector-effect="non-scaling-stroke" stroke-linejoin="round"/>
</g>
<path d="M700.0 1095.0C700.0 1095.0 766.7 1083.2 800.0 1076.0C833.3 1068.8 874.2 1058.0 900.0 1052.0C925.8 1046.0 955.0 1040.0 955.0 1040.0C955.0 1040.0 963.5 1065.3 962.0 1082.0C960.5 1098.7 953.8 1122.0 946.0 1140.0C938.2 1158.0 927.7 1177.3 915.0 1190.0C902.3 1202.7 885.8 1210.5 870.0 1216.0C854.2 1221.5 836.7 1225.3 820.0 1223.0C803.3 1220.7 785.0 1212.5 770.0 1202.0C755.0 1191.5 740.7 1173.3 730.0 1160.0C719.3 1146.7 711.0 1132.8 706.0 1122.0C701.0 1111.2 700.0 1095.0 700.0 1095.0Z" fill="none" stroke="#0d0b12" stroke-width="1.3" vector-effect="non-scaling-stroke" stroke-linejoin="round"/>
<clipPath id="cpCrown"><path d="M225.0 622.0C225.0 622.0 210.0 588.7 200.0 560.0C190.0 531.3 173.3 483.3 165.0 450.0C156.7 416.7 150.0 386.7 150.0 360.0C150.0 333.3 154.2 316.7 165.0 290.0C175.8 263.3 194.2 226.7 215.0 200.0C235.8 173.3 262.5 149.2 290.0 130.0C317.5 110.8 350.0 97.5 380.0 85.0C410.0 72.5 443.3 61.7 470.0 55.0C496.7 48.3 515.0 45.0 540.0 45.0C565.0 45.0 593.3 47.5 620.0 55.0C646.7 62.5 700.0 90.0 700.0 90.0C700.0 90.0 601.7 123.3 560.0 150.0C518.3 176.7 476.7 215.0 450.0 250.0C423.3 285.0 410.8 322.0 400.0 360.0C389.2 398.0 385.0 478.0 385.0 478.0C385.0 478.0 350.8 503.8 330.0 520.0C309.2 536.2 277.5 558.0 260.0 575.0C242.5 592.0 225.0 622.0 225.0 622.0Z"/></clipPath>
<path d="M225.0 622.0C225.0 622.0 210.0 588.7 200.0 560.0C190.0 531.3 173.3 483.3 165.0 450.0C156.7 416.7 150.0 386.7 150.0 360.0C150.0 333.3 154.2 316.7 165.0 290.0C175.8 263.3 194.2 226.7 215.0 200.0C235.8 173.3 262.5 149.2 290.0 130.0C317.5 110.8 350.0 97.5 380.0 85.0C410.0 72.5 443.3 61.7 470.0 55.0C496.7 48.3 515.0 45.0 540.0 45.0C565.0 45.0 593.3 47.5 620.0 55.0C646.7 62.5 700.0 90.0 700.0 90.0C700.0 90.0 601.7 123.3 560.0 150.0C518.3 176.7 476.7 215.0 450.0 250.0C423.3 285.0 410.8 322.0 400.0 360.0C389.2 398.0 385.0 478.0 385.0 478.0C385.0 478.0 350.8 503.8 330.0 520.0C309.2 536.2 277.5 558.0 260.0 575.0C242.5 592.0 225.0 622.0 225.0 622.0Z" fill="#26208c" stroke="#0d0b12" stroke-width="1.3" vector-effect="non-scaling-stroke" stroke-linejoin="round"/>
<g clip-path="url(#cpCrown)">
<path d="M345.0 95.0C345.0 95.0 331.5 162.5 330.0 200.0C328.5 237.5 328.0 272.5 336.0 320.0C344.0 367.5 378.0 485.0 378.0 485.0L200.0 700.0L100.0 400.0L200.0 100.0L345.0 95.0Z" fill="#14116d"/>
<path d="M345.0 95.0C345.0 95.0 331.5 162.5 330.0 200.0C328.5 237.5 328.0 272.5 336.0 320.0C344.0 367.5 378.0 485.0 378.0 485.0" fill="none" stroke="#0a0838" stroke-width="4"/>
</g>
<path d="M225.0 622.0C225.0 622.0 210.0 588.7 200.0 560.0C190.0 531.3 173.3 483.3 165.0 450.0C156.7 416.7 150.0 386.7 150.0 360.0C150.0 333.3 154.2 316.7 165.0 290.0C175.8 263.3 194.2 226.7 215.0 200.0C235.8 173.3 262.5 149.2 290.0 130.0C317.5 110.8 350.0 97.5 380.0 85.0C410.0 72.5 443.3 61.7 470.0 55.0C496.7 48.3 515.0 45.0 540.0 45.0C565.0 45.0 593.3 47.5 620.0 55.0C646.7 62.5 700.0 90.0 700.0 90.0C700.0 90.0 601.7 123.3 560.0 150.0C518.3 176.7 476.7 215.0 450.0 250.0C423.3 285.0 410.8 322.0 400.0 360.0C389.2 398.0 385.0 478.0 385.0 478.0C385.0 478.0 350.8 503.8 330.0 520.0C309.2 536.2 277.5 558.0 260.0 575.0C242.5 592.0 225.0 622.0 225.0 622.0Z" fill="none" stroke="#0d0b12" stroke-width="1.3" vector-effect="non-scaling-stroke" stroke-linejoin="round"/>
<path d="M432 182 L446 232 L470 190 L480 226 L506 172" fill="none" stroke="#fff" stroke-width="6" stroke-linejoin="round"/>
<path d="M385.0 480.0C385.0 480.0 377.5 460.0 380.0 440.0C382.5 420.0 388.3 391.7 400.0 360.0C411.7 328.3 426.7 286.7 450.0 250.0C473.3 213.3 506.7 169.2 540.0 140.0C573.3 110.8 613.3 90.8 650.0 75.0C686.7 59.2 725.0 50.5 760.0 45.0C795.0 39.5 826.7 38.7 860.0 42.0C893.3 45.3 926.7 55.3 960.0 65.0C993.3 74.7 1030.0 87.5 1060.0 100.0C1090.0 112.5 1123.7 125.8 1140.0 140.0C1156.3 154.2 1158.0 167.5 1158.0 185.0C1158.0 202.5 1149.7 224.2 1140.0 245.0C1130.3 265.8 1116.7 289.2 1100.0 310.0C1083.3 330.8 1059.2 353.0 1040.0 370.0C1020.8 387.0 985.0 412.0 985.0 412.0C985.0 412.0 930.8 385.8 900.0 378.0C869.2 370.2 833.3 366.0 800.0 365.0C766.7 364.0 733.3 367.0 700.0 372.0C666.7 377.0 631.7 385.7 600.0 395.0C568.3 404.3 536.7 417.2 510.0 428.0C483.3 438.8 460.8 451.3 440.0 460.0C419.2 468.7 385.0 480.0 385.0 480.0Z" fill="#0a0440" stroke="#0d0b12" stroke-width="1.3" vector-effect="non-scaling-stroke" stroke-linejoin="round"/>
</g></g>
<g id="boxes"><path fill="#0f1278" d="M1122 217.2H1408V309.6H1300.3L1266.3 341.3L1232.3 309.6H1122Z"/><path fill="#0f1278" d="M1455 217.2H1740V309.6H1635.5L1601.5 341.3L1567.5 309.6H1455Z"/><path fill="#0f1278" d="M1790 217.2H2125.8V309.6H1993.4L1959.4 341.3L1925.4 309.6H1790Z"/><path fill="#0f1278" d="M2168.9 217.2H2481V309.6H2360.0L2326.0 341.3L2292.0 309.6H2168.9Z"/><path fill="#0f1278" d="M2522 217.2H2807V309.6H2700.3L2666.3 341.3L2632.3 309.6H2522Z"/><path fill="#cccccc" d="M2843.6 217.2H3160V309.6H3030.0L2996.0 341.3L2962.0 309.6H2843.6Z"/><path fill="#cccccc" d="M1122 598.9H1408V691.3H1300.3L1266.3 723.0L1232.3 691.3H1122Z"/><path fill="#cccccc" d="M1455 598.9H1740V691.3H1635.5L1601.5 723.0L1567.5 691.3H1455Z"/><path fill="#0f1278" d="M1790 598.9H2125.8V691.3H1993.4L1959.4 723.0L1925.4 691.3H1790Z"/><path fill="#0f1278" d="M2168.9 598.9H2481V691.3H2360.0L2326.0 723.0L2292.0 691.3H2168.9Z"/><path fill="#0f1278" d="M2522 598.9H2807V691.3H2700.3L2666.3 723.0L2632.3 691.3H2522Z"/><path fill="#cccccc" d="M2843.6 598.9H3160V691.3H3030.0L2996.0 723.0L2962.0 691.3H2843.6Z"/><path fill="#0f1278" d="M1122 980.5H1408V1072.9H1300.3L1266.3 1104.6L1232.3 1072.9H1122Z"/><path fill="#0f1278" d="M1455 980.5H1740V1072.9H1635.5L1601.5 1104.6L1567.5 1072.9H1455Z"/><path fill="#0f1278" d="M1790 980.5H2125.8V1072.9H1993.4L1959.4 1104.6L1925.4 1072.9H1790Z"/><path fill="#0f1278" d="M2168.9 980.5H2481V1072.9H2360.0L2326.0 1104.6L2292.0 1072.9H2168.9Z"/><path fill="#0f1278" d="M2522 980.5H2807V1072.9H2700.3L2666.3 1104.6L2632.3 1072.9H2522Z"/><path fill="#cccccc" d="M2843.6 980.5H3160V1072.9H3030.0L2996.0 1104.6L2962.0 1072.9H2843.6Z"/><path fill="#cccccc" d="M1122 1364.2H1408V1456.6H1296.5L1266.3 1485.0L1236.1 1456.6H1122Z"/><path fill="#cccccc" d="M1455 1364.2H1740V1456.6H1631.7L1601.5 1485.0L1571.3 1456.6H1455Z"/><path fill="#cccccc" d="M1790 1364.2H2125.8V1456.6H1989.6L1959.4 1485.0L1929.2 1456.6H1790Z"/><path fill="#0f1278" d="M2168.9 1364.2H2481V1456.6H2356.2L2326.0 1485.0L2295.8 1456.6H2168.9Z"/><path fill="#0f1278" d="M2522 1364.2H2807V1456.6H2696.5L2666.3 1485.0L2636.1 1456.6H2522Z"/><path fill="#cccccc" d="M2843.6 1364.2H3160V1456.6H3026.2L2996.0 1485.0L2965.8 1456.6H2843.6Z"/><path fill="#cccccc" d="M1122 1752.4H1408V1844.8H1297.5L1266.3 1874.8L1235.1 1844.8H1122Z"/><path fill="#0f1278" d="M1455 1752.4H1740V1844.8H1632.7L1601.5 1874.8L1570.3 1844.8H1455Z"/><path fill="#0f1278" d="M1790 1752.4H2125.8V1844.8H1990.6L1959.4 1874.8L1928.2 1844.8H1790Z"/><path fill="#0f1278" d="M2168.9 1752.4H2481V1844.8H2357.2L2326.0 1874.8L2294.8 1844.8H2168.9Z"/><path fill="#0f1278" d="M2522 1752.4H2807V1844.8H2697.5L2666.3 1874.8L2635.1 1844.8H2522Z"/><path fill="#cccccc" d="M2843.6 1752.4H3160V1844.8H3027.2L2996.0 1874.8L2964.8 1844.8H2843.6Z"/><path fill="#cccccc" d="M1122 2132.4H1408V2224.8H1298.9L1266.3 2255.5L1233.7 2224.8H1122Z"/><path fill="#0f1278" d="M1455 2132.4H1740V2224.8H1634.1L1601.5 2255.5L1568.9 2224.8H1455Z"/><path fill="#0f1278" d="M1790 2132.4H2125.8V2224.8H1992.0L1959.4 2255.5L1926.8 2224.8H1790Z"/><path fill="#0f1278" d="M2168.9 2132.4H2481V2224.8H2358.6L2326.0 2255.5L2293.4 2224.8H2168.9Z"/><path fill="#0f1278" d="M2522 2132.4H2807V2224.8H2698.9L2666.3 2255.5L2633.7 2224.8H2522Z"/><path fill="#cccccc" d="M2843.6 2132.4H3160V2224.8H3028.6L2996.0 2255.5L2963.4 2224.8H2843.6Z"/></g>
<rect x="1655.4" y="2407.5" width="54.5" height="54" fill="#0f1278"/><rect x="2137" y="2407.5" width="54" height="54" fill="#cccccc"/>
<g id="icons"><path fill="#1b3790" fill-rule="evenodd" d="M1134.5,83.9 L1144.3,103.7 L1166.1,106.8 L1150.3,122.2 L1154.0,144.0 L1134.5,133.7 L1115.0,144.0 L1118.7,122.2 L1102.9,106.8 L1124.7,103.7Z M1134.5,94.9 L1141.0,108.1 L1155.6,110.2 L1145.1,120.5 L1147.5,135.1 L1134.5,128.2 L1121.5,135.1 L1123.9,120.5 L1113.4,110.2 L1128.0,108.1Z"/>
<g transform="translate(1100,460) scale(0.05761)" fill="none" stroke="#101480" stroke-width="66" stroke-linejoin="round">
<ellipse cx="877" cy="1125" rx="430" ry="145"/>
<path fill="#000" d="M572 432 H1163 L1128 1040 Q1110 1105 1040 1108 H710 Q630 1100 612 1040Z"/>
<path d="M600 858 H1140"/>
<path d="M722 432 L740 858 M868 432 V858 M1022 432 L1005 858" stroke-width="62"/>
</g>
<path transform="translate(1100,840) scale(0.05761)" fill="#101480" d="M1268.0 420.0C1268.0 420.0 1218.0 406.3 1190.0 408.0C1162.0 409.7 1125.0 417.7 1100.0 430.0C1075.0 442.3 1055.0 460.3 1040.0 482.0C1025.0 503.7 1014.3 533.7 1010.0 560.0C1005.7 586.3 1010.7 619.7 1014.0 640.0C1017.3 660.3 1030.0 682.0 1030.0 682.0L795.0 905.0C795.0 905.0 732.5 891.7 700.0 895.0C667.5 898.3 625.8 909.2 600.0 925.0C574.2 940.8 557.8 965.8 545.0 990.0C532.2 1014.2 523.3 1041.3 523.0 1070.0C522.7 1098.7 543.0 1162.0 543.0 1162.0L650.0 1060.0C650.0 1060.0 705.7 1064.7 722.0 1078.0C738.3 1091.3 748.0 1140.0 748.0 1140.0L648.0 1258.0C648.0 1258.0 694.7 1281.3 720.0 1282.0C745.3 1282.7 775.0 1275.7 800.0 1262.0C825.0 1248.3 853.0 1223.7 870.0 1200.0C887.0 1176.3 898.7 1148.3 902.0 1120.0C905.3 1091.7 890.0 1030.0 890.0 1030.0L1140.0 790.0C1140.0 790.0 1191.7 803.3 1220.0 800.0C1248.3 796.7 1285.0 788.3 1310.0 770.0C1335.0 751.7 1356.3 718.3 1370.0 690.0C1383.7 661.7 1390.7 625.8 1392.0 600.0C1393.3 574.2 1378.0 535.0 1378.0 535.0L1270.0 642.0C1270.0 642.0 1215.5 637.3 1198.0 625.0C1180.5 612.7 1165.0 568.0 1165.0 568.0L1268.0 420.0Z"/>
<g transform="translate(1100,1220) scale(0.05761)" fill="none" stroke="#101480" stroke-width="58" stroke-linejoin="round" stroke-linecap="round">
<rect x="552" y="1195" width="965" height="108" rx="54"/>
<path d="M690 1180 C585 1090 545 950 580 790 C590 720 600 670 612 632"/>
<path d="M600 612 C740 600 800 570 860 522 C1050 530 1300 650 1420 830 C1470 910 1482 1000 1478 1185"/>
<path d="M605 640 C800 620 1010 730 1010 880 C1010 990 900 1050 800 1040 C700 1030 650 900 585 705Z"/>
<path d="M570 598 L430 608 Q395 570 432 535 L505 462 Q545 435 570 470 Z" stroke-width="62"/>
<path d="M828 540 L672 542 Q635 505 672 468 L750 390 Q795 355 825 392 L843 470 Z" stroke-width="62"/>
</g>
<path fill="none" stroke="#101480" stroke-width="5.4" stroke-linejoin="miter" d="M1152.45 1658.10 L1182.23 1658.10 M1165.00 1658.10 L1171.36 1647.07 M1165.00 1658.10 L1171.36 1669.13 M1173.61 1658.10 L1177.64 1651.13 M1173.61 1658.10 L1177.64 1665.07 M1152.45 1658.10 L1167.34 1683.89 M1158.72 1668.97 L1171.46 1668.97 M1158.72 1668.97 L1152.36 1679.99 M1163.03 1676.43 L1171.08 1676.43 M1163.03 1676.43 L1159.00 1683.40 M1152.45 1658.10 L1137.56 1683.89 M1146.18 1668.97 L1152.54 1679.99 M1146.18 1668.97 L1133.44 1668.97 M1141.87 1676.43 L1145.90 1683.40 M1141.87 1676.43 L1133.82 1676.43 M1152.45 1658.10 L1122.67 1658.10 M1139.90 1658.10 L1133.54 1669.13 M1139.90 1658.10 L1133.54 1647.07 M1131.29 1658.10 L1127.26 1665.07 M1131.29 1658.10 L1127.26 1651.13 M1152.45 1658.10 L1137.56 1632.31 M1146.18 1647.23 L1133.44 1647.23 M1146.18 1647.23 L1152.54 1636.21 M1141.87 1639.77 L1133.82 1639.77 M1141.87 1639.77 L1145.90 1632.80 M1152.45 1658.10 L1167.34 1632.31 M1158.72 1647.23 L1152.36 1636.21 M1158.72 1647.23 L1171.46 1647.23 M1163.03 1639.77 L1159.00 1632.80 M1163.03 1639.77 L1171.08 1639.77"/>
<g transform="translate(1100,1990) scale(0.05761)" fill="none" stroke="#101480" stroke-width="56" stroke-linejoin="miter" stroke-linecap="butt">
<path d="M440 1285 L690 800 L945 1035 Z" stroke-miterlimit="2.2"/>
<path d="M700 890 L790 1075" stroke-width="48"/>
<path d="M610 1010 L590 1170" stroke-width="52"/>
<path d="M745 385 L840 455 C850 560 745 620 760 700 L800 760"/>
<path d="M1035 505 C900 600 885 720 950 845"/>
<circle cx="1035" cy="670" r="45" stroke-width="46"/>
<path d="M1005 930 C1080 820 1180 830 1250 875 C1310 900 1350 880 1390 830"/>
<path d="M1215 385 L1300 468 L1215 550 L1133 468 Z" stroke-width="50"/>
<circle cx="1320" cy="1065" r="62" stroke-width="50"/>
<path d="M615 515 L580 572 L650 572 Z" stroke-width="26"/>
<path d="M1200 680 L1168 728 L1232 725 Z" stroke-width="28"/>
</g></g>
<g id="logo">
<defs><clipPath id="lgdisc"><circle cx="2792.7" cy="106.4" r="45.7"/></clipPath></defs>
<circle cx="2792.7" cy="106.4" r="52" fill="none" stroke="#1c3a8f" stroke-width="6.4"/>
<g clip-path="url(#lgdisc)">
<path fill="#1c3a8f" d="M2820.7 38.5 L2768.1 174.3 L2732.7 174.3 L2732.7 38.5Z"/>
<path fill="#dc000c" d="M2832.8 46.400000000000006 L2807.6 110.9 L2852.7 110.9 L2852.7 46.400000000000006Z"/>
<path fill="#dc000c" d="M2802.6 123.9 L2852.7 123.9 L2852.7 166.4 L2786.0 166.4Z"/>
</g>
<path fill="#fff" d="M2788.5,67.5 L2790.7,73.4 L2797.0,73.6 L2792.1,77.5 L2793.7,83.6 L2788.5,80.1 L2783.3,83.6 L2784.9,77.5 L2780.0,73.6 L2786.3,73.4Z"/>
<path fill="#fff" d="M2766.4,86.0 L2768.6,91.9 L2774.8,92.2 L2769.9,96.1 L2771.6,102.1 L2766.4,98.7 L2761.1,102.1 L2762.8,96.1 L2757.9,92.2 L2764.2,91.9Z"/>
<path fill="#fff" d="M2768.0,115.0 L2770.2,120.8 L2776.4,121.1 L2771.5,125.0 L2773.2,131.1 L2768.0,127.6 L2762.7,131.1 L2764.4,125.0 L2759.5,121.1 L2765.8,120.8Z"/>
</g>
</svg>
<div class="t" style="left:103.68px;top:96.59px;font-size:74.20px;color:#fff;transform:scaleX(0.9497);-webkit-text-stroke:2.8px #fff;">2018 HOLIDAY</div>
<div class="t" style="left:104.34px;top:182.99px;font-size:74.20px;color:#fff;transform:scaleX(0.8567);-webkit-text-stroke:2.8px #fff;">SERVICE SCHEDULE</div>
<div class="t" style="left:105.74px;top:269.28px;font-size:39.13px;color:#fff;transform:scaleX(1.0078);">Use this guide to follow our holiday service</div>
<div class="t" style="left:106.14px;top:319.48px;font-size:39.13px;color:#fff;transform:scaleX(1.0056);">pickup schedule and make sure you put out your</div>
<div class="t" style="left:108.11px;top:369.08px;font-size:39.13px;color:#fff;transform:scaleX(0.9979);">trash, recycling and yard debris on time. Don’t let</div>
<div class="t" style="left:108.10px;top:418.68px;font-size:39.13px;color:#fff;transform:scaleX(1.0054);">your waste ruin the holidays!</div>
<div class="t" style="left:102.01px;top:2180.58px;font-size:76.81px;color:#fff;font-weight:700;transform:scaleX(0.8785);">Have Questions?</div>
<div class="t" style="left:102.75px;top:2259.35px;font-size:40.58px;color:#fff;transform:scaleX(0.9577);">Our Customer Support Team is here to help:</div>
<div class="t" style="left:102.59px;top:2309.25px;font-size:40.58px;color:#fff;transform:scaleX(0.9415);">Call 678-720-0500 or Email info@adsimail.com</div>
<div class="t" style="left:102.94px;top:2359.65px;font-size:40.58px;color:#fff;transform:scaleX(0.9116);">MON – FRI: 8:00 AM to 4:30 PM</div>
<div class="t" style="left:104.50px;top:2409.55px;font-size:40.58px;color:#fff;transform:scaleX(0.9802);">www.americandisposal.com/holiday-schedule</div>
<div class="t" style="left:1217.65px;top:91.37px;font-size:55.80px;color:#10137f;transform:scaleX(0.8618);-webkit-text-stroke:1.3px #1d3a9c;paint-order:stroke fill;">MEMORIAL DAY</div>
<div class="t" style="left:1221.04px;top:151.93px;font-size:36.23px;color:#808080;transform:scaleX(1.0219);-webkit-text-stroke:0.4px #808080;">MONDAY, MAY 28, 2018</div>
<div class="t" style="left:1140.12px;top:250.74px;font-size:30.43px;color:#fff;transform:scaleX(0.9795);">MONDAY PICKUP</div>
<div class="t thin" style="left:1131.61px;top:377.19px;font-size:30.72px;color:#5b5656;transform:scaleX(0.9397);">WILL BE SERVICED</div>
<div class="t" style="left:1202.46px;top:414.68px;font-size:30.14px;color:#524d4d;font-weight:700;transform:scaleX(0.9575);">TUESDAY</div>
<div class="t" style="left:1474.12px;top:250.74px;font-size:30.43px;color:#fff;transform:scaleX(0.9504);">TUESDAY PICKUP</div>
<div class="t thin" style="left:1463.61px;top:377.19px;font-size:30.72px;color:#5b5656;transform:scaleX(0.9397);">WILL BE SERVICED</div>
<div class="t" style="left:1505.25px;top:414.68px;font-size:30.14px;color:#524d4d;font-weight:700;transform:scaleX(0.9890);">WEDNESDAY</div>
<div class="t" style="left:1808.90px;top:250.74px;font-size:30.43px;color:#fff;transform:scaleX(0.9552);">WEDNESDAY PICKUP</div>
<div class="t thin" style="left:1822.11px;top:377.19px;font-size:30.72px;color:#5b5656;transform:scaleX(0.9397);">WILL BE SERVICED</div>
<div class="t" style="left:1878.90px;top:414.68px;font-size:30.14px;color:#524d4d;font-weight:700;transform:scaleX(0.9802);">THURSDAY</div>
<div class="t" style="left:2189.42px;top:250.74px;font-size:30.43px;color:#fff;transform:scaleX(0.9533);">THURSDAY PICKUP</div>
<div class="t thin" style="left:2187.61px;top:377.19px;font-size:30.72px;color:#5b5656;transform:scaleX(0.9397);">WILL BE SERVICED</div>
<div class="t" style="left:2270.60px;top:414.68px;font-size:30.14px;color:#524d4d;font-weight:700;transform:scaleX(0.9933);">FRIDAY</div>
<div class="t" style="left:2552.37px;top:250.74px;font-size:30.43px;color:#fff;transform:scaleX(0.9559);">FRIDAY PICKUP</div>
<div class="t thin" style="left:2528.31px;top:377.19px;font-size:30.72px;color:#5b5656;transform:scaleX(0.9397);">WILL BE SERVICED</div>
<div class="t" style="left:2585.87px;top:414.68px;font-size:30.14px;color:#524d4d;font-weight:700;transform:scaleX(0.9713);">SATURDAY</div>
<div class="t" style="left:2857.54px;top:250.74px;font-size:30.43px;color:#4a4545;transform:scaleX(0.9569);">SATURDAY PICKUP</div>
<div class="t thin" style="left:2890.75px;top:377.19px;font-size:30.72px;color:#5b5656;transform:scaleX(0.9731);">WILL REMAIN</div>
<div class="t" style="left:2908.07px;top:414.68px;font-size:30.14px;color:#524d4d;font-weight:700;transform:scaleX(0.9713);">SATURDAY</div>
<div class="t" style="left:1232.10px;top:476.49px;font-size:54.35px;color:#10137f;transform:scaleX(0.8377);-webkit-text-stroke:1.3px #1d3a9c;paint-order:stroke fill;">INDEPENDENCE DAY</div>
<div class="t" style="left:1235.82px;top:533.10px;font-size:35.80px;color:#808080;transform:scaleX(0.9905);-webkit-text-stroke:0.4px #808080;">WEDNESDAY, JULY 4, 2018</div>
<div class="t" style="left:1140.12px;top:632.44px;font-size:30.43px;color:#4a4545;transform:scaleX(0.9795);">MONDAY PICKUP</div>
<div class="t thin" style="left:1169.05px;top:758.89px;font-size:30.72px;color:#5b5656;transform:scaleX(0.9731);">WILL REMAIN</div>
<div class="t" style="left:1197.78px;top:796.38px;font-size:30.14px;color:#524d4d;font-weight:700;transform:scaleX(1.0286);">MONDAY</div>
<div class="t" style="left:1474.12px;top:632.44px;font-size:30.43px;color:#4a4545;transform:scaleX(0.9504);">TUESDAY PICKUP</div>
<div class="t thin" style="left:1504.85px;top:758.89px;font-size:30.72px;color:#5b5656;transform:scaleX(0.9731);">WILL REMAIN</div>
<div class="t" style="left:1532.96px;top:796.38px;font-size:30.14px;color:#524d4d;font-weight:700;transform:scaleX(0.9575);">TUESDAY</div>
<div class="t" style="left:1808.90px;top:632.44px;font-size:30.43px;color:#fff;transform:scaleX(0.9552);">WEDNESDAY PICKUP</div>
<div class="t thin" style="left:1822.11px;top:758.89px;font-size:30.72px;color:#5b5656;transform:scaleX(0.9397);">WILL BE SERVICED</div>
<div class="t" style="left:1878.90px;top:796.38px;font-size:30.14px;color:#524d4d;font-weight:700;transform:scaleX(0.9802);">THURSDAY</div>
<div class="t" style="left:2189.42px;top:632.44px;font-size:30.43px;color:#fff;transform:scaleX(0.9533);">THURSDAY PICKUP</div>
<div class="t thin" style="left:2187.61px;top:758.89px;font-size:30.72px;color:#5b5656;transform:scaleX(0.9397);">WILL BE SERVICED</div>
<div class="t" style="left:2270.60px;top:796.38px;font-size:30.14px;color:#524d4d;font-weight:700;transform:scaleX(0.9933);">FRIDAY</div>
<div class="t" style="left:2552.37px;top:632.44px;font-size:30.43px;color:#fff;transform:scaleX(0.9559);">FRIDAY PICKUP</div>
<div class="t thin" style="left:2528.31px;top:758.89px;font-size:30.72px;color:#5b5656;transform:scaleX(0.9397);">WILL BE SERVICED</div>
<div class="t" style="left:2585.87px;top:796.38px;font-size:30.14px;color:#524d4d;font-weight:700;transform:scaleX(0.9713);">SATURDAY</div>
<div class="t" style="left:2857.54px;top:632.44px;font-size:30.43px;color:#4a4545;transform:scaleX(0.9569);">SATURDAY PICKUP</div>
<div class="t thin" style="left:2890.75px;top:758.89px;font-size:30.72px;color:#5b5656;transform:scaleX(0.9731);">WILL REMAIN</div>
<div class="t" style="left:2908.07px;top:796.38px;font-size:30.14px;color:#524d4d;font-weight:700;transform:scaleX(0.9713);">SATURDAY</div>
<div class="t" style="left:1231.91px;top:858.39px;font-size:54.35px;color:#10137f;transform:scaleX(0.8481);-webkit-text-stroke:1.3px #1d3a9c;paint-order:stroke fill;">LABOR DAY</div>
<div class="t" style="left:1232.73px;top:915.20px;font-size:35.80px;color:#808080;transform:scaleX(1.0009);-webkit-text-stroke:0.4px #808080;">MONDAY, SEPTEMBER 3, 2018</div>
<div class="t" style="left:1140.12px;top:1014.04px;font-size:30.43px;color:#fff;transform:scaleX(0.9795);">MONDAY PICKUP</div>
<div class="t thin" style="left:1131.61px;top:1140.49px;font-size:30.72px;color:#5b5656;transform:scaleX(0.9397);">WILL BE SERVICED</div>
<div class="t" style="left:1202.46px;top:1177.98px;font-size:30.14px;color:#524d4d;font-weight:700;transform:scaleX(0.9575);">TUESDAY</div>
<div class="t" style="left:1474.12px;top:1014.04px;font-size:30.43px;color:#fff;transform:scaleX(0.9504);">TUESDAY PICKUP</div>
<div class="t thin" style="left:1463.61px;top:1140.49px;font-size:30.72px;color:#5b5656;transform:scaleX(0.9397);">WILL BE SERVICED</div>
<div class="t" style="left:1505.25px;top:1177.98px;font-size:30.14px;color:#524d4d;font-weight:700;transform:scaleX(0.9890);">WEDNESDAY</div>
<div class="t" style="left:1808.90px;top:1014.04px;font-size:30.43px;color:#fff;transform:scaleX(0.9552);">WEDNESDAY PICKUP</div>
<div class="t thin" style="left:1822.11px;top:1140.49px;font-size:30.72px;color:#5b5656;transform:scaleX(0.9397);">WILL BE SERVICED</div>
<div class="t" style="left:1878.90px;top:1177.98px;font-size:30.14px;color:#524d4d;font-weight:700;transform:scaleX(0.9802);">THURSDAY</div>
<div class="t" style="left:2189.42px;top:1014.04px;font-size:30.43px;color:#fff;transform:scaleX(0.9533);">THURSDAY PICKUP</div>
<div class="t thin" style="left:2187.61px;top:1140.49px;font-size:30.72px;color:#5b5656;transform:scaleX(0.9397);">WILL BE SERVICED</div>
<div class="t" style="left:2270.60px;top:1177.98px;font-size:30.14px;color:#524d4d;font-weight:700;transform:scaleX(0.9933);">FRIDAY</div>
<div class="t" style="left:2552.37px;top:1014.04px;font-size:30.43px;color:#fff;transform:scaleX(0.9559);">FRIDAY PICKUP</div>
<div class="t thin" style="left:2528.31px;top:1140.49px;font-size:30.72px;color:#5b5656;transform:scaleX(0.9397);">WILL BE SERVICED</div>
<div class="t" style="left:2585.87px;top:1177.98px;font-size:30.14px;color:#524d4d;font-weight:700;transform:scaleX(0.9713);">SATURDAY</div>
<div class="t" style="left:2857.54px;top:1014.04px;font-size:30.43px;color:#4a4545;transform:scaleX(0.9569);">SATURDAY PICKUP</div>
<div class="t thin" style="left:2890.75px;top:1140.49px;font-size:30.72px;color:#5b5656;transform:scaleX(0.9731);">WILL REMAIN</div>
<div class="t" style="left:2908.07px;top:1177.98px;font-size:30.14px;color:#524d4d;font-weight:700;transform:scaleX(0.9713);">SATURDAY</div>
<div class="t" style="left:1240.08px;top:1242.61px;font-size:53.62px;color:#10137f;transform:scaleX(0.8623);-webkit-text-stroke:1.3px #1d3a9c;paint-order:stroke fill;">THANKSGIVING DAY</div>
<div class="t" style="left:1241.48px;top:1299.30px;font-size:35.80px;color:#808080;transform:scaleX(0.9990);-webkit-text-stroke:0.4px #808080;">THURSDAY, NOVEMBER 22, 2018</div>
<div class="t" style="left:1140.12px;top:1397.74px;font-size:30.43px;color:#4a4545;transform:scaleX(0.9795);">MONDAY PICKUP</div>
<div class="t thin" style="left:1169.05px;top:1524.19px;font-size:30.72px;color:#5b5656;transform:scaleX(0.9731);">WILL REMAIN</div>
<div class="t" style="left:1197.78px;top:1561.68px;font-size:30.14px;color:#524d4d;font-weight:700;transform:scaleX(1.0286);">MONDAY</div>
<div class="t" style="left:1474.12px;top:1397.74px;font-size:30.43px;color:#4a4545;transform:scaleX(0.9504);">TUESDAY PICKUP</div>
<div class="t thin" style="left:1504.85px;top:1524.19px;font-size:30.72px;color:#5b5656;transform:scaleX(0.9731);">WILL REMAIN</div>
<div class="t" style="left:1532.96px;top:1561.68px;font-size:30.14px;color:#524d4d;font-weight:700;transform:scaleX(0.9575);">TUESDAY</div>
<div class="t" style="left:1808.90px;top:1397.74px;font-size:30.43px;color:#4a4545;transform:scaleX(0.9552);">WEDNESDAY PICKUP</div>
<div class="t thin" style="left:1862.55px;top:1524.19px;font-size:30.72px;color:#5b5656;transform:scaleX(0.9731);">WILL REMAIN</div>
<div class="t" style="left:1864.25px;top:1561.68px;font-size:30.14px;color:#524d4d;font-weight:700;transform:scaleX(0.9890);">WEDNESDAY</div>
<div class="t" style="left:2189.42px;top:1397.74px;font-size:30.43px;color:#fff;transform:scaleX(0.9533);">THURSDAY PICKUP</div>
<div class="t thin" style="left:2187.61px;top:1524.19px;font-size:30.72px;color:#5b5656;transform:scaleX(0.9397);">WILL BE SERVICED</div>
<div class="t" style="left:2270.60px;top:1561.68px;font-size:30.14px;color:#524d4d;font-weight:700;transform:scaleX(0.9933);">FRIDAY</div>
<div class="t" style="left:2552.37px;top:1397.74px;font-size:30.43px;color:#fff;transform:scaleX(0.9559);">FRIDAY PICKUP</div>
<div class="t thin" style="left:2528.31px;top:1524.19px;font-size:30.72px;color:#5b5656;transform:scaleX(0.9397);">WILL BE SERVICED</div>
<div class="t" style="left:2585.87px;top:1561.68px;font-size:30.14px;color:#524d4d;font-weight:700;transform:scaleX(0.9713);">SATURDAY</div>
<div class="t" style="left:2857.54px;top:1397.74px;font-size:30.43px;color:#4a4545;transform:scaleX(0.9569);">SATURDAY PICKUP</div>
<div class="t thin" style="left:2890.75px;top:1524.19px;font-size:30.72px;color:#5b5656;transform:scaleX(0.9731);">WILL REMAIN</div>
<div class="t" style="left:2908.07px;top:1561.68px;font-size:30.14px;color:#524d4d;font-weight:700;transform:scaleX(0.9713);">SATURDAY</div>
<div class="t" style="left:1232.33px;top:1630.52px;font-size:52.90px;color:#10137f;transform:scaleX(0.8589);-webkit-text-stroke:1.3px #1d3a9c;paint-order:stroke fill;">CHRISTMAS DAY</div>
<div class="t" style="left:1234.89px;top:1687.50px;font-size:35.80px;color:#808080;transform:scaleX(0.9952);-webkit-text-stroke:0.4px #808080;">TUESDAY, DECEMBER 25, 2018</div>
<div class="t" style="left:1140.12px;top:1785.94px;font-size:30.43px;color:#4a4545;transform:scaleX(0.9795);">MONDAY PICKUP</div>
<div class="t thin" style="left:1165.95px;top:1912.39px;font-size:30.72px;color:#5b5656;transform:scaleX(0.9731);">WILL REMAIN</div>
<div class="t" style="left:1197.78px;top:1949.88px;font-size:30.14px;color:#524d4d;font-weight:700;transform:scaleX(1.0286);">MONDAY</div>
<div class="t" style="left:1474.12px;top:1785.94px;font-size:30.43px;color:#fff;transform:scaleX(0.9504);">TUESDAY PICKUP</div>
<div class="t thin" style="left:1463.61px;top:1912.39px;font-size:30.72px;color:#5b5656;transform:scaleX(0.9397);">WILL BE SERVICED</div>
<div class="t" style="left:1505.25px;top:1949.88px;font-size:30.14px;color:#524d4d;font-weight:700;transform:scaleX(0.9890);">WEDNESDAY</div>
<div class="t" style="left:1808.90px;top:1785.94px;font-size:30.43px;color:#fff;transform:scaleX(0.9552);">WEDNESDAY PICKUP</div>
<div class="t thin" style="left:1822.11px;top:1912.39px;font-size:30.72px;color:#5b5656;transform:scaleX(0.9397);">WILL BE SERVICED</div>
<div class="t" style="left:1878.90px;top:1949.88px;font-size:30.14px;color:#524d4d;font-weight:700;transform:scaleX(0.9802);">THURSDAY</div>
<div class="t" style="left:2189.42px;top:1785.94px;font-size:30.43px;color:#fff;transform:scaleX(0.9533);">THURSDAY PICKUP</div>
<div class="t thin" style="left:2187.61px;top:1912.39px;font-size:30.72px;color:#5b5656;transform:scaleX(0.9397);">WILL BE SERVICED</div>
<div class="t" style="left:2270.60px;top:1949.88px;font-size:30.14px;color:#524d4d;font-weight:700;transform:scaleX(0.9933);">FRIDAY</div>
<div class="t" style="left:2552.37px;top:1785.94px;font-size:30.43px;color:#fff;transform:scaleX(0.9559);">FRIDAY PICKUP</div>
<div class="t thin" style="left:2528.31px;top:1912.39px;font-size:30.72px;color:#5b5656;transform:scaleX(0.9397);">WILL BE SERVICED</div>
<div class="t" style="left:2585.87px;top:1949.88px;font-size:30.14px;color:#524d4d;font-weight:700;transform:scaleX(0.9713);">SATURDAY</div>
<div class="t" style="left:2857.54px;top:1785.94px;font-size:30.43px;color:#4a4545;transform:scaleX(0.9569);">SATURDAY PICKUP</div>
<div class="t thin" style="left:2890.75px;top:1912.39px;font-size:30.72px;color:#5b5656;transform:scaleX(0.9731);">WILL REMAIN</div>
<div class="t" style="left:2908.07px;top:1949.88px;font-size:30.14px;color:#524d4d;font-weight:700;transform:scaleX(0.9713);">SATURDAY</div>
<div class="t" style="left:1232.02px;top:2010.52px;font-size:52.90px;color:#10137f;transform:scaleX(0.8452);-webkit-text-stroke:1.3px #1d3a9c;paint-order:stroke fill;">NEW YEAR’S DAY</div>
<div class="t" style="left:1234.88px;top:2067.50px;font-size:35.80px;color:#808080;transform:scaleX(1.0004);-webkit-text-stroke:0.4px #808080;">TUESDAY, JANUARY 1, 2019</div>
<div class="t" style="left:1140.12px;top:2165.94px;font-size:30.43px;color:#4a4545;transform:scaleX(0.9795);">MONDAY PICKUP</div>
<div class="t thin" style="left:1165.95px;top:2292.39px;font-size:30.72px;color:#5b5656;transform:scaleX(0.9731);">WILL REMAIN</div>
<div class="t" style="left:1197.78px;top:2329.88px;font-size:30.14px;color:#524d4d;font-weight:700;transform:scaleX(1.0286);">MONDAY</div>
<div class="t" style="left:1474.12px;top:2165.94px;font-size:30.43px;color:#fff;transform:scaleX(0.9504);">TUESDAY PICKUP</div>
<div class="t thin" style="left:1463.61px;top:2292.39px;font-size:30.72px;color:#5b5656;transform:scaleX(0.9397);">WILL BE SERVICED</div>
<div class="t" style="left:1505.25px;top:2329.88px;font-size:30.14px;color:#524d4d;font-weight:700;transform:scaleX(0.9890);">WEDNESDAY</div>
<div class="t" style="left:1808.90px;top:2165.94px;font-size:30.43px;color:#fff;transform:scaleX(0.9552);">WEDNESDAY PICKUP</div>
<div class="t thin" style="left:1822.11px;top:2292.39px;font-size:30.72px;color:#5b5656;transform:scaleX(0.9397);">WILL BE SERVICED</div>
<div class="t" style="left:1878.90px;top:2329.88px;font-size:30.14px;color:#524d4d;font-weight:700;transform:scaleX(0.9802);">THURSDAY</div>
<div class="t" style="left:2189.42px;top:2165.94px;font-size:30.43px;color:#fff;transform:scaleX(0.9533);">THURSDAY PICKUP</div>
<div class="t thin" style="left:2187.61px;top:2292.39px;font-size:30.72px;color:#5b5656;transform:scaleX(0.9397);">WILL BE SERVICED</div>
<div class="t" style="left:2270.60px;top:2329.88px;font-size:30.14px;color:#524d4d;font-weight:700;transform:scaleX(0.9933);">FRIDAY</div>
<div class="t" style="left:2552.37px;top:2165.94px;font-size:30.43px;color:#fff;transform:scaleX(0.9559);">FRIDAY PICKUP</div>
<div class="t thin" style="left:2528.31px;top:2292.39px;font-size:30.72px;color:#5b5656;transform:scaleX(0.9397);">WILL BE SERVICED</div>
<div class="t" style="left:2585.87px;top:2329.88px;font-size:30.14px;color:#524d4d;font-weight:700;transform:scaleX(0.9713);">SATURDAY</div>
<div class="t" style="left:2857.54px;top:2165.94px;font-size:30.43px;color:#4a4545;transform:scaleX(0.9569);">SATURDAY PICKUP</div>
<div class="t thin" style="left:2890.75px;top:2292.39px;font-size:30.72px;color:#5b5656;transform:scaleX(0.9731);">WILL REMAIN</div>
<div class="t" style="left:2908.07px;top:2329.88px;font-size:30.14px;color:#524d4d;font-weight:700;transform:scaleX(0.9713);">SATURDAY</div>
<div class="t" style="left:1725.92px;top:2418.44px;font-size:35.51px;color:#514c4c;font-weight:700;transform:scaleX(0.8997);">Pick up day has changed</div>
<div class="t" style="left:2198.55px;top:2418.44px;font-size:35.51px;color:#514c4c;font-weight:700;transform:scaleX(0.8901);">Pick up day remains the Same</div>
<div class="t" style="left:2857.20px;top:71.28px;font-size:58.26px;color:#1c3a94;font-weight:700;transform:scaleX(0.9608);-webkit-text-stroke:1.6px #1c3a94;">AMERICAN</div>
<div class="t" style="left:2856.92px;top:128.82px;font-size:19.71px;color:#7d7d7d;font-weight:700;letter-spacing:5.622px;-webkit-text-stroke:0.9px #7d7d7d;">DISPOSAL</div>
<div class="t" style="left:3010.31px;top:128.82px;font-size:19.71px;color:#7d7d7d;font-weight:700;letter-spacing:6.006px;-webkit-text-stroke:0.9px #7d7d7d;">SERVICES</div>
</body></html>
